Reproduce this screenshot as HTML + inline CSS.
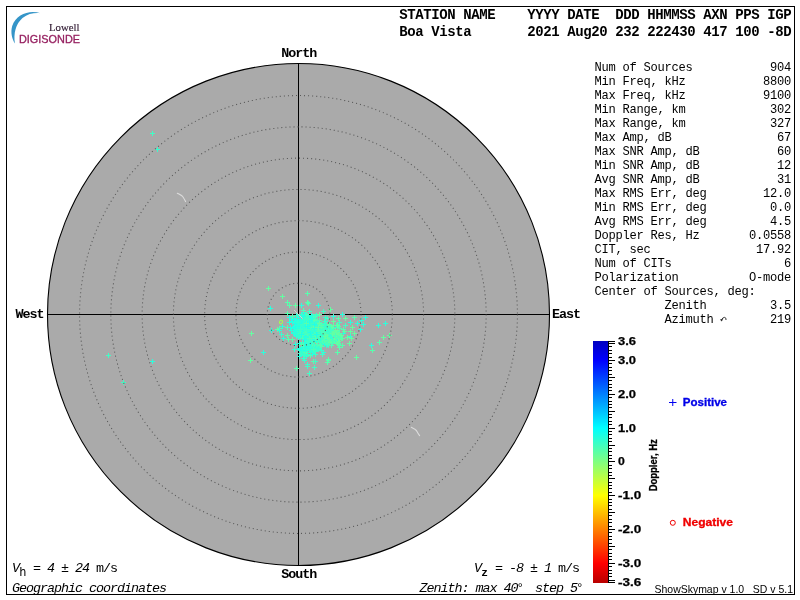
<!DOCTYPE html>
<html><head><meta charset="utf-8"><title>Skymap</title>
<style>
html,body{margin:0;padding:0;background:#fff;}
body{width:800px;height:600px;overflow:hidden;font-family:"Liberation Sans",sans-serif;}
svg{display:block;will-change:transform;}
.m{font-family:"Liberation Mono",monospace;}
.s{font-family:"Liberation Sans",sans-serif;}
.sf{font-family:"Liberation Serif",serif;}
.c{shape-rendering:crispEdges;fill:none;stroke-width:1;}
</style></head><body>
<svg width="800" height="600" viewBox="0 0 800 600">
<rect width="800" height="600" fill="#fff"/>
<rect x="6.5" y="6.5" width="788" height="588" fill="none" stroke="#000" stroke-width="1" shape-rendering="crispEdges"/>
<g id="logo">
<path d="M40.5 13.2 C30 9.5 16 14 12.2 26 C10.3 32.5 12.1 39 14.9 43.5 C13.4 33.5 15.7 24 22.5 18 C28 13.6 34.5 12.6 40.5 13.2 Z" fill="#3595c8"/>
<text class="sf" x="49" y="31" font-size="10.6" fill="#2e1830" stroke="#2e1830" stroke-width="0.15" textLength="30.5" lengthAdjust="spacingAndGlyphs">Lowell</text>
<text class="s" x="19" y="43.4" font-size="11" fill="#962060" stroke="#962060" stroke-width="0.3" textLength="61" lengthAdjust="spacingAndGlyphs">DIGISONDE</text>
</g>
<circle cx="298.5" cy="314.5" r="251" fill="#aaaaaa" stroke="#000" stroke-width="1.1"/>
<path class="c" stroke="#000" d="M298.5 63V566M47 314.5H550"/>
<path d="M177.3 193.3 Q182 195.5 183 197 T185.6 201.6" fill="none" stroke="#dcdcdc" stroke-width="1.1" stroke-linecap="round"/>
<path d="M411.3 427.3 Q416 429.5 417 431.5 T419.6 435.6" fill="none" stroke="#dcdcdc" stroke-width="1.1" stroke-linecap="round"/>
<g class="c">
<path stroke="#36ffd0" d="M313 346.5 h5M315.5 344 v5"/><path stroke="#58ffae" d="M315 342.5 h5M317.5 340 v5"/><path stroke="#2cffdc" d="M319 330.5 h5M321.5 328 v5"/><path stroke="#4cffba" d="M316 346.5 h5M318.5 344 v5"/><path stroke="#36ffd0" d="M305 332.5 h5M307.5 330 v5"/><path stroke="#64ffa2" d="M345 337.5 h5M347.5 335 v5"/><path stroke="#36ffd0" d="M306 343.5 h5M308.5 341 v5"/><path stroke="#2cffdc" d="M300 343.5 h5M302.5 341 v5"/><path stroke="#2cffdc" d="M314 336.5 h5M316.5 334 v5"/><path stroke="#36ffd0" d="M318 335.5 h5M320.5 333 v5"/><path stroke="#58ffae" d="M335 338.5 h5M337.5 336 v5"/><path stroke="#2cffdc" d="M312 329.5 h5M314.5 327 v5"/><path stroke="#40ffc6" d="M304 326.5 h5M306.5 324 v5"/><path stroke="#40ffc6" d="M304 322.5 h5M306.5 320 v5"/><path stroke="#4cffba" d="M328 340.5 h5M330.5 338 v5"/><path stroke="#4cffba" d="M325 335.5 h5M327.5 333 v5"/><path stroke="#58ffae" d="M325 330.5 h5M327.5 328 v5"/><path stroke="#4cffba" d="M329 332.5 h5M331.5 330 v5"/><path stroke="#36ffd0" d="M304 319.5 h5M306.5 317 v5"/><path stroke="#2cffdc" d="M309 324.5 h5M311.5 322 v5"/><path stroke="#40ffc6" d="M320 332.5 h5M322.5 330 v5"/><path stroke="#36ffd0" d="M310 335.5 h5M312.5 333 v5"/><path stroke="#36ffd0" d="M317 330.5 h5M319.5 328 v5"/><path stroke="#36ffd0" d="M302 331.5 h5M304.5 329 v5"/><path stroke="#36ffd0" d="M328 334.5 h5M330.5 332 v5"/><path stroke="#36ffd0" d="M302 332.5 h5M304.5 330 v5"/><path stroke="#36ffd0" d="M305 336.5 h5M307.5 334 v5"/><path stroke="#64ffa2" d="M335 332.5 h5M337.5 330 v5"/><path stroke="#40ffc6" d="M316 334.5 h5M318.5 332 v5"/><path stroke="#4cffba" d="M317 335.5 h5M319.5 333 v5"/><path stroke="#58ffae" d="M328 339.5 h5M330.5 337 v5"/><path stroke="#58ffae" d="M326 359.5 h5M328.5 357 v5"/><path stroke="#64ffa2" d="M350 327.5 h5M352.5 325 v5"/><path stroke="#4cffba" d="M334 332.5 h5M336.5 330 v5"/><path stroke="#2cffdc" d="M310 337.5 h5M312.5 335 v5"/><path stroke="#40ffc6" d="M313 338.5 h5M315.5 336 v5"/><path stroke="#4cffba" d="M311 328.5 h5M313.5 326 v5"/><path stroke="#36ffd0" d="M331 327.5 h5M333.5 325 v5"/><path stroke="#40ffc6" d="M307 337.5 h5M309.5 335 v5"/><path stroke="#36ffd0" d="M306 326.5 h5M308.5 324 v5"/><path stroke="#36ffd0" d="M331 341.5 h5M333.5 339 v5"/><path stroke="#40ffc6" d="M311 327.5 h5M313.5 325 v5"/><path stroke="#22ffe6" d="M312 320.5 h5M314.5 318 v5"/><path stroke="#2cffdc" d="M311 333.5 h5M313.5 331 v5"/><path stroke="#40ffc6" d="M314 333.5 h5M316.5 331 v5"/><path stroke="#4cffba" d="M303 351.5 h5M305.5 349 v5"/><path stroke="#36ffd0" d="M313 328.5 h5M315.5 326 v5"/><path stroke="#22ffe6" d="M298 337.5 h5M300.5 335 v5"/><path stroke="#2cffdc" d="M301 329.5 h5M303.5 327 v5"/><path stroke="#64ffa2" d="M334 334.5 h5M336.5 332 v5"/><path stroke="#4cffba" d="M315 331.5 h5M317.5 329 v5"/><path stroke="#40ffc6" d="M321 338.5 h5M323.5 336 v5"/><path stroke="#40ffc6" d="M318 329.5 h5M320.5 327 v5"/><path stroke="#40ffc6" d="M319 337.5 h5M321.5 335 v5"/><path stroke="#40ffc6" d="M320 325.5 h5M322.5 323 v5"/><path stroke="#2cffdc" d="M305 315.5 h5M307.5 313 v5"/><path stroke="#4cffba" d="M306 327.5 h5M308.5 325 v5"/><path stroke="#2cffdc" d="M290 322.5 h5M292.5 320 v5"/><path stroke="#58ffae" d="M319 329.5 h5M321.5 327 v5"/><path stroke="#2cffdc" d="M303 327.5 h5M305.5 325 v5"/><path stroke="#22ffe6" d="M304 330.5 h5M306.5 328 v5"/><path stroke="#4cffba" d="M329 340.5 h5M331.5 338 v5"/><path stroke="#2cffdc" d="M307 349.5 h5M309.5 347 v5"/><path stroke="#40ffc6" d="M312 320.5 h5M314.5 318 v5"/><path stroke="#36ffd0" d="M300 348.5 h5M302.5 346 v5"/><path stroke="#4cffba" d="M315 320.5 h5M317.5 318 v5"/><path stroke="#58ffae" d="M321 329.5 h5M323.5 327 v5"/><path stroke="#22ffe6" d="M302 331.5 h5M304.5 329 v5"/><path stroke="#2cffdc" d="M298 331.5 h5M300.5 329 v5"/><path stroke="#2cffdc" d="M314 328.5 h5M316.5 326 v5"/><path stroke="#58ffae" d="M336 326.5 h5M338.5 324 v5"/><path stroke="#40ffc6" d="M318 333.5 h5M320.5 331 v5"/><path stroke="#4cffba" d="M303 330.5 h5M305.5 328 v5"/><path stroke="#22ffe6" d="M291 330.5 h5M293.5 328 v5"/><path stroke="#40ffc6" d="M301 322.5 h5M303.5 320 v5"/><path stroke="#40ffc6" d="M326 345.5 h5M328.5 343 v5"/><path stroke="#36ffd0" d="M308 335.5 h5M310.5 333 v5"/><path stroke="#2cffdc" d="M301 329.5 h5M303.5 327 v5"/><path stroke="#4cffba" d="M328 338.5 h5M330.5 336 v5"/><path stroke="#40ffc6" d="M317 330.5 h5M319.5 328 v5"/><path stroke="#22ffe6" d="M298 326.5 h5M300.5 324 v5"/><path stroke="#36ffd0" d="M309 331.5 h5M311.5 329 v5"/><path stroke="#4cffba" d="M311 347.5 h5M313.5 345 v5"/><path stroke="#36ffd0" d="M307 332.5 h5M309.5 330 v5"/><path stroke="#40ffc6" d="M301 337.5 h5M303.5 335 v5"/><path stroke="#2cffdc" d="M297 336.5 h5M299.5 334 v5"/><path stroke="#40ffc6" d="M324 325.5 h5M326.5 323 v5"/><path stroke="#40ffc6" d="M318 334.5 h5M320.5 332 v5"/><path stroke="#40ffc6" d="M325 318.5 h5M327.5 316 v5"/><path stroke="#64ffa2" d="M326 339.5 h5M328.5 337 v5"/><path stroke="#36ffd0" d="M300 331.5 h5M302.5 329 v5"/><path stroke="#36ffd0" d="M325 334.5 h5M327.5 332 v5"/><path stroke="#64ffa2" d="M318 329.5 h5M320.5 327 v5"/><path stroke="#40ffc6" d="M304 315.5 h5M306.5 313 v5"/><path stroke="#2cffdc" d="M310 326.5 h5M312.5 324 v5"/><path stroke="#36ffd0" d="M312 331.5 h5M314.5 329 v5"/><path stroke="#40ffc6" d="M305 332.5 h5M307.5 330 v5"/><path stroke="#2cffdc" d="M303 347.5 h5M305.5 345 v5"/><path stroke="#22ffe6" d="M292 318.5 h5M294.5 316 v5"/><path stroke="#40ffc6" d="M310 322.5 h5M312.5 320 v5"/><path stroke="#2cffdc" d="M302 331.5 h5M304.5 329 v5"/><path stroke="#58ffae" d="M336 334.5 h5M338.5 332 v5"/><path stroke="#40ffc6" d="M318 330.5 h5M320.5 328 v5"/><path stroke="#2cffdc" d="M301 346.5 h5M303.5 344 v5"/><path stroke="#36ffd0" d="M309 336.5 h5M311.5 334 v5"/><path stroke="#36ffd0" d="M312 351.5 h5M314.5 349 v5"/><path stroke="#40ffc6" d="M295 324.5 h5M297.5 322 v5"/><path stroke="#36ffd0" d="M310 325.5 h5M312.5 323 v5"/><path stroke="#36ffd0" d="M305 354.5 h5M307.5 352 v5"/><path stroke="#58ffae" d="M287 305.5 h5M289.5 303 v5"/><path stroke="#2cffdc" d="M296 327.5 h5M298.5 325 v5"/><path stroke="#22ffe6" d="M317 344.5 h5M319.5 342 v5"/><path stroke="#22ffe6" d="M308 337.5 h5M310.5 335 v5"/><path stroke="#36ffd0" d="M323 330.5 h5M325.5 328 v5"/><path stroke="#40ffc6" d="M325 339.5 h5M327.5 337 v5"/><path stroke="#22ffe6" d="M301 317.5 h5M303.5 315 v5"/><path stroke="#58ffae" d="M294 368.5 h5M296.5 366 v5"/><path stroke="#2cffdc" d="M361 324.5 h5M363.5 322 v5"/><path stroke="#2cffdc" d="M307 327.5 h5M309.5 325 v5"/><path stroke="#58ffae" d="M319 346.5 h5M321.5 344 v5"/><path stroke="#36ffd0" d="M309 333.5 h5M311.5 331 v5"/><path stroke="#58ffae" d="M326 335.5 h5M328.5 333 v5"/><path stroke="#36ffd0" d="M306 331.5 h5M308.5 329 v5"/><path stroke="#2cffdc" d="M316 336.5 h5M318.5 334 v5"/><path stroke="#40ffc6" d="M302 344.5 h5M304.5 342 v5"/><path stroke="#40ffc6" d="M316 349.5 h5M318.5 347 v5"/><path stroke="#4cffba" d="M320 335.5 h5M322.5 333 v5"/><path stroke="#4cffba" d="M316 326.5 h5M318.5 324 v5"/><path stroke="#4cffba" d="M319 331.5 h5M321.5 329 v5"/><path stroke="#4cffba" d="M306 303.5 h5M308.5 301 v5"/><path stroke="#36ffd0" d="M309 329.5 h5M311.5 327 v5"/><path stroke="#36ffd0" d="M319 350.5 h5M321.5 348 v5"/><path stroke="#4cffba" d="M311 346.5 h5M313.5 344 v5"/><path stroke="#2cffdc" d="M308 317.5 h5M310.5 315 v5"/><path stroke="#22ffe6" d="M308 336.5 h5M310.5 334 v5"/><path stroke="#40ffc6" d="M296 328.5 h5M298.5 326 v5"/><path stroke="#36ffd0" d="M313 320.5 h5M315.5 318 v5"/><path stroke="#36ffd0" d="M307 323.5 h5M309.5 321 v5"/><path stroke="#2cffdc" d="M310 317.5 h5M312.5 315 v5"/><path stroke="#64ffa2" d="M330 343.5 h5M332.5 341 v5"/><path stroke="#4cffba" d="M314 327.5 h5M316.5 325 v5"/><path stroke="#2cffdc" d="M315 323.5 h5M317.5 321 v5"/><path stroke="#36ffd0" d="M300 328.5 h5M302.5 326 v5"/><path stroke="#4cffba" d="M303 329.5 h5M305.5 327 v5"/><path stroke="#58ffae" d="M311 361.5 h5M313.5 359 v5"/><path stroke="#2cffdc" d="M291 332.5 h5M293.5 330 v5"/><path stroke="#4cffba" d="M321 331.5 h5M323.5 329 v5"/><path stroke="#40ffc6" d="M306 340.5 h5M308.5 338 v5"/><path stroke="#40ffc6" d="M319 324.5 h5M321.5 322 v5"/><path stroke="#2cffdc" d="M305 344.5 h5M307.5 342 v5"/><path stroke="#36ffd0" d="M303 325.5 h5M305.5 323 v5"/><path stroke="#2cffdc" d="M302 326.5 h5M304.5 324 v5"/><path stroke="#64ffa2" d="M326 333.5 h5M328.5 331 v5"/><path stroke="#4cffba" d="M300 332.5 h5M302.5 330 v5"/><path stroke="#64ffa2" d="M352 333.5 h5M354.5 331 v5"/><path stroke="#40ffc6" d="M323 337.5 h5M325.5 335 v5"/><path stroke="#36ffd0" d="M314 328.5 h5M316.5 326 v5"/><path stroke="#22ffe6" d="M299 322.5 h5M301.5 320 v5"/><path stroke="#4cffba" d="M310 337.5 h5M312.5 335 v5"/><path stroke="#2cffdc" d="M261 352.5 h5M263.5 350 v5"/><path stroke="#36ffd0" d="M310 351.5 h5M312.5 349 v5"/><path stroke="#4cffba" d="M311 317.5 h5M313.5 315 v5"/><path stroke="#40ffc6" d="M320 354.5 h5M322.5 352 v5"/><path stroke="#2cffdc" d="M316 339.5 h5M318.5 337 v5"/><path stroke="#40ffc6" d="M330 332.5 h5M332.5 330 v5"/><path stroke="#40ffc6" d="M318 327.5 h5M320.5 325 v5"/><path stroke="#4cffba" d="M325 342.5 h5M327.5 340 v5"/><path stroke="#4cffba" d="M325 331.5 h5M327.5 329 v5"/><path stroke="#22ffe6" d="M292 326.5 h5M294.5 324 v5"/><path stroke="#2cffdc" d="M304 326.5 h5M306.5 324 v5"/><path stroke="#40ffc6" d="M302 315.5 h5M304.5 313 v5"/><path stroke="#40ffc6" d="M307 311.5 h5M309.5 309 v5"/><path stroke="#58ffae" d="M324 337.5 h5M326.5 335 v5"/><path stroke="#2cffdc" d="M300 327.5 h5M302.5 325 v5"/><path stroke="#36ffd0" d="M316 326.5 h5M318.5 324 v5"/><path stroke="#40ffc6" d="M313 329.5 h5M315.5 327 v5"/><path stroke="#40ffc6" d="M312 335.5 h5M314.5 333 v5"/><path stroke="#36ffd0" d="M309 334.5 h5M311.5 332 v5"/><path stroke="#22ffe6" d="M304 320.5 h5M306.5 318 v5"/><path stroke="#40ffc6" d="M321 332.5 h5M323.5 330 v5"/><path stroke="#4cffba" d="M310 322.5 h5M312.5 320 v5"/><path stroke="#2cffdc" d="M301 347.5 h5M303.5 345 v5"/><path stroke="#36ffd0" d="M297 325.5 h5M299.5 323 v5"/><path stroke="#40ffc6" d="M325 329.5 h5M327.5 327 v5"/><path stroke="#2cffdc" d="M300 325.5 h5M302.5 323 v5"/><path stroke="#22ffe6" d="M304 328.5 h5M306.5 326 v5"/><path stroke="#40ffc6" d="M304 325.5 h5M306.5 323 v5"/><path stroke="#2cffdc" d="M348 336.5 h5M350.5 334 v5"/><path stroke="#2cffdc" d="M312 335.5 h5M314.5 333 v5"/><path stroke="#36ffd0" d="M297 335.5 h5M299.5 333 v5"/><path stroke="#4cffba" d="M335 331.5 h5M337.5 329 v5"/><path stroke="#4cffba" d="M290 316.5 h5M292.5 314 v5"/><path stroke="#22ffe6" d="M293 333.5 h5M295.5 331 v5"/><path stroke="#58ffae" d="M324 335.5 h5M326.5 333 v5"/><path stroke="#40ffc6" d="M308 349.5 h5M310.5 347 v5"/><path stroke="#36ffd0" d="M299 326.5 h5M301.5 324 v5"/><path stroke="#2cffdc" d="M295 321.5 h5M297.5 319 v5"/><path stroke="#40ffc6" d="M318 326.5 h5M320.5 324 v5"/><path stroke="#58ffae" d="M331 334.5 h5M333.5 332 v5"/><path stroke="#40ffc6" d="M306 334.5 h5M308.5 332 v5"/><path stroke="#2cffdc" d="M299 353.5 h5M301.5 351 v5"/><path stroke="#2cffdc" d="M306 331.5 h5M308.5 329 v5"/><path stroke="#58ffae" d="M330 332.5 h5M332.5 330 v5"/><path stroke="#4cffba" d="M319 328.5 h5M321.5 326 v5"/><path stroke="#58ffae" d="M325 337.5 h5M327.5 335 v5"/><path stroke="#40ffc6" d="M306 330.5 h5M308.5 328 v5"/><path stroke="#40ffc6" d="M309 343.5 h5M311.5 341 v5"/><path stroke="#58ffae" d="M321 335.5 h5M323.5 333 v5"/><path stroke="#4cffba" d="M306 329.5 h5M308.5 327 v5"/><path stroke="#40ffc6" d="M308 322.5 h5M310.5 320 v5"/><path stroke="#40ffc6" d="M314 323.5 h5M316.5 321 v5"/><path stroke="#40ffc6" d="M316 333.5 h5M318.5 331 v5"/><path stroke="#40ffc6" d="M301 324.5 h5M303.5 322 v5"/><path stroke="#22ffe6" d="M298 329.5 h5M300.5 327 v5"/><path stroke="#4cffba" d="M314 327.5 h5M316.5 325 v5"/><path stroke="#2cffdc" d="M309 346.5 h5M311.5 344 v5"/><path stroke="#36ffd0" d="M301 345.5 h5M303.5 343 v5"/><path stroke="#22ffe6" d="M305 324.5 h5M307.5 322 v5"/><path stroke="#58ffae" d="M326 336.5 h5M328.5 334 v5"/><path stroke="#36ffd0" d="M330 338.5 h5M332.5 336 v5"/><path stroke="#36ffd0" d="M311 330.5 h5M313.5 328 v5"/><path stroke="#22ffe6" d="M296 320.5 h5M298.5 318 v5"/><path stroke="#36ffd0" d="M311 323.5 h5M313.5 321 v5"/><path stroke="#40ffc6" d="M317 345.5 h5M319.5 343 v5"/><path stroke="#4cffba" d="M315 335.5 h5M317.5 333 v5"/><path stroke="#40ffc6" d="M320 337.5 h5M322.5 335 v5"/><path stroke="#22ffe6" d="M294 322.5 h5M296.5 320 v5"/><path stroke="#4cffba" d="M319 326.5 h5M321.5 324 v5"/><path stroke="#40ffc6" d="M312 333.5 h5M314.5 331 v5"/><path stroke="#58ffae" d="M370 350.5 h5M372.5 348 v5"/><path stroke="#36ffd0" d="M316 328.5 h5M318.5 326 v5"/><path stroke="#2cffdc" d="M315 324.5 h5M317.5 322 v5"/><path stroke="#2cffdc" d="M310 316.5 h5M312.5 314 v5"/><path stroke="#4cffba" d="M336 344.5 h5M338.5 342 v5"/><path stroke="#22ffe6" d="M309 330.5 h5M311.5 328 v5"/><path stroke="#40ffc6" d="M309 330.5 h5M311.5 328 v5"/><path stroke="#40ffc6" d="M310 328.5 h5M312.5 326 v5"/><path stroke="#2cffdc" d="M310 329.5 h5M312.5 327 v5"/><path stroke="#40ffc6" d="M306 328.5 h5M308.5 326 v5"/><path stroke="#4cffba" d="M301 327.5 h5M303.5 325 v5"/><path stroke="#58ffae" d="M315 328.5 h5M317.5 326 v5"/><path stroke="#40ffc6" d="M303 332.5 h5M305.5 330 v5"/><path stroke="#40ffc6" d="M312 334.5 h5M314.5 332 v5"/><path stroke="#22ffe6" d="M303 330.5 h5M305.5 328 v5"/><path stroke="#36ffd0" d="M317 338.5 h5M319.5 336 v5"/><path stroke="#64ffa2" d="M327 325.5 h5M329.5 323 v5"/><path stroke="#4cffba" d="M329 330.5 h5M331.5 328 v5"/><path stroke="#22ffe6" d="M316 332.5 h5M318.5 330 v5"/><path stroke="#64ffa2" d="M293 305.5 h5M295.5 303 v5"/><path stroke="#4cffba" d="M317 339.5 h5M319.5 337 v5"/><path stroke="#58ffae" d="M328 333.5 h5M330.5 331 v5"/><path stroke="#40ffc6" d="M312 338.5 h5M314.5 336 v5"/><path stroke="#36ffd0" d="M301 348.5 h5M303.5 346 v5"/><path stroke="#4cffba" d="M325 334.5 h5M327.5 332 v5"/><path stroke="#2cffdc" d="M306 330.5 h5M308.5 328 v5"/><path stroke="#2cffdc" d="M292 333.5 h5M294.5 331 v5"/><path stroke="#4cffba" d="M305 316.5 h5M307.5 314 v5"/><path stroke="#22ffe6" d="M299 328.5 h5M301.5 326 v5"/><path stroke="#36ffd0" d="M298 350.5 h5M300.5 348 v5"/><path stroke="#40ffc6" d="M321 336.5 h5M323.5 334 v5"/><path stroke="#4cffba" d="M324 324.5 h5M326.5 322 v5"/><path stroke="#22ffe6" d="M308 323.5 h5M310.5 321 v5"/><path stroke="#58ffae" d="M312 330.5 h5M314.5 328 v5"/><path stroke="#40ffc6" d="M305 330.5 h5M307.5 328 v5"/><path stroke="#4cffba" d="M316 335.5 h5M318.5 333 v5"/><path stroke="#22ffe6" d="M304 340.5 h5M306.5 338 v5"/><path stroke="#36ffd0" d="M317 333.5 h5M319.5 331 v5"/><path stroke="#2cffdc" d="M287 322.5 h5M289.5 320 v5"/><path stroke="#22ffe6" d="M308 328.5 h5M310.5 326 v5"/><path stroke="#22ffe6" d="M294 323.5 h5M296.5 321 v5"/><path stroke="#36ffd0" d="M303 329.5 h5M305.5 327 v5"/><path stroke="#40ffc6" d="M317 333.5 h5M319.5 331 v5"/><path stroke="#58ffae" d="M323 324.5 h5M325.5 322 v5"/><path stroke="#40ffc6" d="M303 325.5 h5M305.5 323 v5"/><path stroke="#22ffe6" d="M310 327.5 h5M312.5 325 v5"/><path stroke="#2cffdc" d="M321 337.5 h5M323.5 335 v5"/><path stroke="#2cffdc" d="M281 338.5 h5M283.5 336 v5"/><path stroke="#64ffa2" d="M312 326.5 h5M314.5 324 v5"/><path stroke="#40ffc6" d="M305 366.5 h5M307.5 364 v5"/><path stroke="#40ffc6" d="M321 337.5 h5M323.5 335 v5"/><path stroke="#2cffdc" d="M305 344.5 h5M307.5 342 v5"/><path stroke="#36ffd0" d="M304 328.5 h5M306.5 326 v5"/><path stroke="#36ffd0" d="M311 327.5 h5M313.5 325 v5"/><path stroke="#4cffba" d="M321 333.5 h5M323.5 331 v5"/><path stroke="#4cffba" d="M311 325.5 h5M313.5 323 v5"/><path stroke="#40ffc6" d="M309 331.5 h5M311.5 329 v5"/><path stroke="#64ffa2" d="M329 330.5 h5M331.5 328 v5"/><path stroke="#36ffd0" d="M306 330.5 h5M308.5 328 v5"/><path stroke="#4cffba" d="M327 336.5 h5M329.5 334 v5"/><path stroke="#36ffd0" d="M310 337.5 h5M312.5 335 v5"/><path stroke="#36ffd0" d="M301 354.5 h5M303.5 352 v5"/><path stroke="#4cffba" d="M318 335.5 h5M320.5 333 v5"/><path stroke="#40ffc6" d="M322 332.5 h5M324.5 330 v5"/><path stroke="#22ffe6" d="M297 348.5 h5M299.5 346 v5"/><path stroke="#40ffc6" d="M305 343.5 h5M307.5 341 v5"/><path stroke="#4cffba" d="M325 334.5 h5M327.5 332 v5"/><path stroke="#4cffba" d="M311 325.5 h5M313.5 323 v5"/><path stroke="#36ffd0" d="M302 334.5 h5M304.5 332 v5"/><path stroke="#4cffba" d="M330 343.5 h5M332.5 341 v5"/><path stroke="#36ffd0" d="M314 348.5 h5M316.5 346 v5"/><path stroke="#36ffd0" d="M315 325.5 h5M317.5 323 v5"/><path stroke="#40ffc6" d="M309 333.5 h5M311.5 331 v5"/><path stroke="#40ffc6" d="M327 325.5 h5M329.5 323 v5"/><path stroke="#22ffe6" d="M302 347.5 h5M304.5 345 v5"/><path stroke="#64ffa2" d="M324 333.5 h5M326.5 331 v5"/><path stroke="#4cffba" d="M302 329.5 h5M304.5 327 v5"/><path stroke="#40ffc6" d="M322 335.5 h5M324.5 333 v5"/><path stroke="#40ffc6" d="M303 332.5 h5M305.5 330 v5"/><path stroke="#40ffc6" d="M302 349.5 h5M304.5 347 v5"/><path stroke="#4cffba" d="M329 345.5 h5M331.5 343 v5"/><path stroke="#40ffc6" d="M314 329.5 h5M316.5 327 v5"/><path stroke="#40ffc6" d="M319 331.5 h5M321.5 329 v5"/><path stroke="#2cffdc" d="M315 332.5 h5M317.5 330 v5"/><path stroke="#36ffd0" d="M306 335.5 h5M308.5 333 v5"/><path stroke="#36ffd0" d="M310 327.5 h5M312.5 325 v5"/><path stroke="#2cffdc" d="M307 332.5 h5M309.5 330 v5"/><path stroke="#58ffae" d="M328 338.5 h5M330.5 336 v5"/><path stroke="#2cffdc" d="M306 348.5 h5M308.5 346 v5"/><path stroke="#22ffe6" d="M320 334.5 h5M322.5 332 v5"/><path stroke="#2cffdc" d="M300 320.5 h5M302.5 318 v5"/><path stroke="#58ffae" d="M322 334.5 h5M324.5 332 v5"/><path stroke="#40ffc6" d="M314 329.5 h5M316.5 327 v5"/><path stroke="#40ffc6" d="M321 311.5 h5M323.5 309 v5"/><path stroke="#2cffdc" d="M304 327.5 h5M306.5 325 v5"/><path stroke="#40ffc6" d="M307 331.5 h5M309.5 329 v5"/><path stroke="#36ffd0" d="M312 337.5 h5M314.5 335 v5"/><path stroke="#40ffc6" d="M121 382.5 h5M123.5 380 v5"/><path stroke="#2cffdc" d="M302 343.5 h5M304.5 341 v5"/><path stroke="#40ffc6" d="M326 341.5 h5M328.5 339 v5"/><path stroke="#2cffdc" d="M301 322.5 h5M303.5 320 v5"/><path stroke="#58ffae" d="M306 335.5 h5M308.5 333 v5"/><path stroke="#40ffc6" d="M316 340.5 h5M318.5 338 v5"/><path stroke="#22ffe6" d="M313 332.5 h5M315.5 330 v5"/><path stroke="#40ffc6" d="M306 318.5 h5M308.5 316 v5"/><path stroke="#36ffd0" d="M298 329.5 h5M300.5 327 v5"/><path stroke="#22ffe6" d="M302 337.5 h5M304.5 335 v5"/><path stroke="#40ffc6" d="M302 323.5 h5M304.5 321 v5"/><path stroke="#4cffba" d="M321 331.5 h5M323.5 329 v5"/><path stroke="#22ffe6" d="M309 335.5 h5M311.5 333 v5"/><path stroke="#36ffd0" d="M295 334.5 h5M297.5 332 v5"/><path stroke="#36ffd0" d="M309 328.5 h5M311.5 326 v5"/><path stroke="#64ffa2" d="M387 335.5 h5M389.5 333 v5"/><path stroke="#40ffc6" d="M310 334.5 h5M312.5 332 v5"/><path stroke="#4cffba" d="M328 338.5 h5M330.5 336 v5"/><path stroke="#2cffdc" d="M294 336.5 h5M296.5 334 v5"/><path stroke="#64ffa2" d="M321 332.5 h5M323.5 330 v5"/><path stroke="#22ffe6" d="M300 326.5 h5M302.5 324 v5"/><path stroke="#36ffd0" d="M311 333.5 h5M313.5 331 v5"/><path stroke="#40ffc6" d="M322 335.5 h5M324.5 333 v5"/><path stroke="#36ffd0" d="M317 332.5 h5M319.5 330 v5"/><path stroke="#36ffd0" d="M312 320.5 h5M314.5 318 v5"/><path stroke="#2cffdc" d="M314 321.5 h5M316.5 319 v5"/><path stroke="#22ffe6" d="M304 331.5 h5M306.5 329 v5"/><path stroke="#40ffc6" d="M313 336.5 h5M315.5 334 v5"/><path stroke="#22ffe6" d="M302 333.5 h5M304.5 331 v5"/><path stroke="#22ffe6" d="M302 321.5 h5M304.5 319 v5"/><path stroke="#2cffdc" d="M359 320.5 h5M361.5 318 v5"/><path stroke="#2cffdc" d="M314 315.5 h5M316.5 313 v5"/><path stroke="#58ffae" d="M312 333.5 h5M314.5 331 v5"/><path stroke="#40ffc6" d="M311 345.5 h5M313.5 343 v5"/><path stroke="#22ffe6" d="M310 343.5 h5M312.5 341 v5"/><path stroke="#22ffe6" d="M306 328.5 h5M308.5 326 v5"/><path stroke="#40ffc6" d="M310 334.5 h5M312.5 332 v5"/><path stroke="#36ffd0" d="M311 337.5 h5M313.5 335 v5"/><path stroke="#36ffd0" d="M307 339.5 h5M309.5 337 v5"/><path stroke="#2cffdc" d="M293 321.5 h5M295.5 319 v5"/><path stroke="#36ffd0" d="M305 364.5 h5M307.5 362 v5"/><path stroke="#4cffba" d="M327 336.5 h5M329.5 334 v5"/><path stroke="#22ffe6" d="M296 332.5 h5M298.5 330 v5"/><path stroke="#36ffd0" d="M304 343.5 h5M306.5 341 v5"/><path stroke="#36ffd0" d="M311 320.5 h5M313.5 318 v5"/><path stroke="#22ffe6" d="M308 323.5 h5M310.5 321 v5"/><path stroke="#36ffd0" d="M295 322.5 h5M297.5 320 v5"/><path stroke="#36ffd0" d="M299 323.5 h5M301.5 321 v5"/><path stroke="#36ffd0" d="M304 330.5 h5M306.5 328 v5"/><path stroke="#36ffd0" d="M302 332.5 h5M304.5 330 v5"/><path stroke="#36ffd0" d="M155 149.5 h5M157.5 147 v5"/><path stroke="#40ffc6" d="M299 323.5 h5M301.5 321 v5"/><path stroke="#2cffdc" d="M305 323.5 h5M307.5 321 v5"/><path stroke="#40ffc6" d="M322 330.5 h5M324.5 328 v5"/><path stroke="#36ffd0" d="M304 330.5 h5M306.5 328 v5"/><path stroke="#22ffe6" d="M297 326.5 h5M299.5 324 v5"/><path stroke="#40ffc6" d="M305 321.5 h5M307.5 319 v5"/><path stroke="#36ffd0" d="M315 330.5 h5M317.5 328 v5"/><path stroke="#22ffe6" d="M295 330.5 h5M297.5 328 v5"/><path stroke="#40ffc6" d="M328 330.5 h5M330.5 328 v5"/><path stroke="#40ffc6" d="M310 326.5 h5M312.5 324 v5"/><path stroke="#58ffae" d="M320 334.5 h5M322.5 332 v5"/><path stroke="#2cffdc" d="M304 352.5 h5M306.5 350 v5"/><path stroke="#40ffc6" d="M331 328.5 h5M333.5 326 v5"/><path stroke="#64ffa2" d="M347 343.5 h5M349.5 341 v5"/><path stroke="#64ffa2" d="M342 331.5 h5M344.5 329 v5"/><path stroke="#22ffe6" d="M298 319.5 h5M300.5 317 v5"/><path stroke="#40ffc6" d="M319 329.5 h5M321.5 327 v5"/><path stroke="#36ffd0" d="M310 340.5 h5M312.5 338 v5"/><path stroke="#64ffa2" d="M335 330.5 h5M337.5 328 v5"/><path stroke="#2cffdc" d="M307 330.5 h5M309.5 328 v5"/><path stroke="#22ffe6" d="M307 334.5 h5M309.5 332 v5"/><path stroke="#64ffa2" d="M317 314.5 h5M319.5 312 v5"/><path stroke="#36ffd0" d="M296 321.5 h5M298.5 319 v5"/><path stroke="#2cffdc" d="M308 347.5 h5M310.5 345 v5"/><path stroke="#40ffc6" d="M318 328.5 h5M320.5 326 v5"/><path stroke="#64ffa2" d="M343 318.5 h5M345.5 316 v5"/><path stroke="#36ffd0" d="M309 334.5 h5M311.5 332 v5"/><path stroke="#2cffdc" d="M302 344.5 h5M304.5 342 v5"/><path stroke="#40ffc6" d="M299 332.5 h5M301.5 330 v5"/><path stroke="#36ffd0" d="M317 332.5 h5M319.5 330 v5"/><path stroke="#40ffc6" d="M106 355.5 h5M108.5 353 v5"/><path stroke="#36ffd0" d="M301 323.5 h5M303.5 321 v5"/><path stroke="#40ffc6" d="M302 355.5 h5M304.5 353 v5"/><path stroke="#40ffc6" d="M307 326.5 h5M309.5 324 v5"/><path stroke="#4cffba" d="M318 330.5 h5M320.5 328 v5"/><path stroke="#40ffc6" d="M317 331.5 h5M319.5 329 v5"/><path stroke="#36ffd0" d="M314 322.5 h5M316.5 320 v5"/><path stroke="#36ffd0" d="M307 323.5 h5M309.5 321 v5"/><path stroke="#36ffd0" d="M315 328.5 h5M317.5 326 v5"/><path stroke="#2cffdc" d="M150 361.5 h5M152.5 359 v5"/><path stroke="#2cffdc" d="M318 330.5 h5M320.5 328 v5"/><path stroke="#58ffae" d="M316 335.5 h5M318.5 333 v5"/><path stroke="#4cffba" d="M326 340.5 h5M328.5 338 v5"/><path stroke="#36ffd0" d="M311 317.5 h5M313.5 315 v5"/><path stroke="#22ffe6" d="M298 336.5 h5M300.5 334 v5"/><path stroke="#40ffc6" d="M313 354.5 h5M315.5 352 v5"/><path stroke="#58ffae" d="M328 341.5 h5M330.5 339 v5"/><path stroke="#2cffdc" d="M305 327.5 h5M307.5 325 v5"/><path stroke="#36ffd0" d="M307 325.5 h5M309.5 323 v5"/><path stroke="#4cffba" d="M311 338.5 h5M313.5 336 v5"/><path stroke="#36ffd0" d="M294 334.5 h5M296.5 332 v5"/><path stroke="#22ffe6" d="M300 328.5 h5M302.5 326 v5"/><path stroke="#2cffdc" d="M299 305.5 h5M301.5 303 v5"/><path stroke="#36ffd0" d="M304 337.5 h5M306.5 335 v5"/><path stroke="#36ffd0" d="M306 335.5 h5M308.5 333 v5"/><path stroke="#40ffc6" d="M319 336.5 h5M321.5 334 v5"/><path stroke="#36ffd0" d="M306 328.5 h5M308.5 326 v5"/><path stroke="#40ffc6" d="M310 330.5 h5M312.5 328 v5"/><path stroke="#36ffd0" d="M295 327.5 h5M297.5 325 v5"/><path stroke="#64ffa2" d="M331 325.5 h5M333.5 323 v5"/><path stroke="#4cffba" d="M327 333.5 h5M329.5 331 v5"/><path stroke="#2cffdc" d="M313 334.5 h5M315.5 332 v5"/><path stroke="#36ffd0" d="M309 325.5 h5M311.5 323 v5"/><path stroke="#40ffc6" d="M329 338.5 h5M331.5 336 v5"/><path stroke="#40ffc6" d="M309 327.5 h5M311.5 325 v5"/><path stroke="#64ffa2" d="M319 336.5 h5M321.5 334 v5"/><path stroke="#58ffae" d="M308 329.5 h5M310.5 327 v5"/><path stroke="#58ffae" d="M323 327.5 h5M325.5 325 v5"/><path stroke="#4cffba" d="M318 335.5 h5M320.5 333 v5"/><path stroke="#58ffae" d="M338 335.5 h5M340.5 333 v5"/><path stroke="#36ffd0" d="M308 318.5 h5M310.5 316 v5"/><path stroke="#22ffe6" d="M306 320.5 h5M308.5 318 v5"/><path stroke="#64ffa2" d="M304 352.5 h5M306.5 350 v5"/><path stroke="#22ffe6" d="M302 334.5 h5M304.5 332 v5"/><path stroke="#22ffe6" d="M303 349.5 h5M305.5 347 v5"/><path stroke="#2cffdc" d="M305 328.5 h5M307.5 326 v5"/><path stroke="#36ffd0" d="M305 323.5 h5M307.5 321 v5"/><path stroke="#58ffae" d="M318 345.5 h5M320.5 343 v5"/><path stroke="#36ffd0" d="M307 326.5 h5M309.5 324 v5"/><path stroke="#22ffe6" d="M304 325.5 h5M306.5 323 v5"/><path stroke="#22ffe6" d="M302 314.5 h5M304.5 312 v5"/><path stroke="#36ffd0" d="M321 339.5 h5M323.5 337 v5"/><path stroke="#40ffc6" d="M318 333.5 h5M320.5 331 v5"/><path stroke="#22ffe6" d="M313 328.5 h5M315.5 326 v5"/><path stroke="#22ffe6" d="M296 319.5 h5M298.5 317 v5"/><path stroke="#2cffdc" d="M314 330.5 h5M316.5 328 v5"/><path stroke="#36ffd0" d="M300 326.5 h5M302.5 324 v5"/><path stroke="#2cffdc" d="M299 347.5 h5M301.5 345 v5"/><path stroke="#36ffd0" d="M318 328.5 h5M320.5 326 v5"/><path stroke="#36ffd0" d="M330 338.5 h5M332.5 336 v5"/><path stroke="#4cffba" d="M319 329.5 h5M321.5 327 v5"/><path stroke="#22ffe6" d="M307 321.5 h5M309.5 319 v5"/><path stroke="#22ffe6" d="M309 316.5 h5M311.5 314 v5"/><path stroke="#36ffd0" d="M320 336.5 h5M322.5 334 v5"/><path stroke="#22ffe6" d="M321 337.5 h5M323.5 335 v5"/><path stroke="#4cffba" d="M313 319.5 h5M315.5 317 v5"/><path stroke="#58ffae" d="M318 329.5 h5M320.5 327 v5"/><path stroke="#2cffdc" d="M314 337.5 h5M316.5 335 v5"/><path stroke="#58ffae" d="M310 335.5 h5M312.5 333 v5"/><path stroke="#36ffd0" d="M309 324.5 h5M311.5 322 v5"/><path stroke="#64ffa2" d="M328 328.5 h5M330.5 326 v5"/><path stroke="#4cffba" d="M329 331.5 h5M331.5 329 v5"/><path stroke="#4cffba" d="M301 350.5 h5M303.5 348 v5"/><path stroke="#36ffd0" d="M304 343.5 h5M306.5 341 v5"/><path stroke="#40ffc6" d="M314 330.5 h5M316.5 328 v5"/><path stroke="#4cffba" d="M321 333.5 h5M323.5 331 v5"/><path stroke="#36ffd0" d="M311 316.5 h5M313.5 314 v5"/><path stroke="#2cffdc" d="M300 328.5 h5M302.5 326 v5"/><path stroke="#4cffba" d="M317 339.5 h5M319.5 337 v5"/><path stroke="#2cffdc" d="M305 329.5 h5M307.5 327 v5"/><path stroke="#58ffae" d="M329 329.5 h5M331.5 327 v5"/><path stroke="#2cffdc" d="M311 341.5 h5M313.5 339 v5"/><path stroke="#40ffc6" d="M320 332.5 h5M322.5 330 v5"/><path stroke="#22ffe6" d="M315 333.5 h5M317.5 331 v5"/><path stroke="#2cffdc" d="M303 321.5 h5M305.5 319 v5"/><path stroke="#4cffba" d="M322 328.5 h5M324.5 326 v5"/><path stroke="#58ffae" d="M327 339.5 h5M329.5 337 v5"/><path stroke="#36ffd0" d="M318 329.5 h5M320.5 327 v5"/><path stroke="#4cffba" d="M316 334.5 h5M318.5 332 v5"/><path stroke="#36ffd0" d="M306 332.5 h5M308.5 330 v5"/><path stroke="#2cffdc" d="M306 344.5 h5M308.5 342 v5"/><path stroke="#40ffc6" d="M306 325.5 h5M308.5 323 v5"/><path stroke="#40ffc6" d="M314 344.5 h5M316.5 342 v5"/><path stroke="#58ffae" d="M320 335.5 h5M322.5 333 v5"/><path stroke="#4cffba" d="M323 333.5 h5M325.5 331 v5"/><path stroke="#36ffd0" d="M306 348.5 h5M308.5 346 v5"/><path stroke="#64ffa2" d="M266 288.5 h5M268.5 286 v5"/><path stroke="#36ffd0" d="M313 334.5 h5M315.5 332 v5"/><path stroke="#2cffdc" d="M309 330.5 h5M311.5 328 v5"/><path stroke="#2cffdc" d="M297 329.5 h5M299.5 327 v5"/><path stroke="#22ffe6" d="M306 335.5 h5M308.5 333 v5"/><path stroke="#36ffd0" d="M316 336.5 h5M318.5 334 v5"/><path stroke="#2cffdc" d="M308 329.5 h5M310.5 327 v5"/><path stroke="#40ffc6" d="M305 322.5 h5M307.5 320 v5"/><path stroke="#36ffd0" d="M321 334.5 h5M323.5 332 v5"/><path stroke="#40ffc6" d="M326 329.5 h5M328.5 327 v5"/><path stroke="#36ffd0" d="M305 315.5 h5M307.5 313 v5"/><path stroke="#58ffae" d="M335 333.5 h5M337.5 331 v5"/><path stroke="#64ffa2" d="M321 338.5 h5M323.5 336 v5"/><path stroke="#22ffe6" d="M306 334.5 h5M308.5 332 v5"/><path stroke="#36ffd0" d="M303 334.5 h5M305.5 332 v5"/><path stroke="#22ffe6" d="M300 329.5 h5M302.5 327 v5"/><path stroke="#58ffae" d="M311 316.5 h5M313.5 314 v5"/><path stroke="#40ffc6" d="M314 348.5 h5M316.5 346 v5"/><path stroke="#2cffdc" d="M305 325.5 h5M307.5 323 v5"/><path stroke="#22ffe6" d="M310 321.5 h5M312.5 319 v5"/><path stroke="#36ffd0" d="M306 329.5 h5M308.5 327 v5"/><path stroke="#4cffba" d="M307 349.5 h5M309.5 347 v5"/><path stroke="#36ffd0" d="M305 323.5 h5M307.5 321 v5"/><path stroke="#36ffd0" d="M315 330.5 h5M317.5 328 v5"/><path stroke="#40ffc6" d="M304 349.5 h5M306.5 347 v5"/><path stroke="#2cffdc" d="M280 326.5 h5M282.5 324 v5"/><path stroke="#2cffdc" d="M309 321.5 h5M311.5 319 v5"/><path stroke="#40ffc6" d="M312 349.5 h5M314.5 347 v5"/><path stroke="#40ffc6" d="M311 332.5 h5M313.5 330 v5"/><path stroke="#40ffc6" d="M320 329.5 h5M322.5 327 v5"/><path stroke="#36ffd0" d="M307 330.5 h5M309.5 328 v5"/><path stroke="#2cffdc" d="M310 318.5 h5M312.5 316 v5"/><path stroke="#2cffdc" d="M297 343.5 h5M299.5 341 v5"/><path stroke="#58ffae" d="M336 343.5 h5M338.5 341 v5"/><path stroke="#2cffdc" d="M355 323.5 h5M357.5 321 v5"/><path stroke="#2cffdc" d="M296 321.5 h5M298.5 319 v5"/><path stroke="#36ffd0" d="M319 341.5 h5M321.5 339 v5"/><path stroke="#40ffc6" d="M314 327.5 h5M316.5 325 v5"/><path stroke="#4cffba" d="M326 331.5 h5M328.5 329 v5"/><path stroke="#2cffdc" d="M341 333.5 h5M343.5 331 v5"/><path stroke="#58ffae" d="M319 336.5 h5M321.5 334 v5"/><path stroke="#36ffd0" d="M318 334.5 h5M320.5 332 v5"/><path stroke="#4cffba" d="M303 318.5 h5M305.5 316 v5"/><path stroke="#64ffa2" d="M280 296.5 h5M282.5 294 v5"/><path stroke="#22ffe6" d="M299 324.5 h5M301.5 322 v5"/><path stroke="#36ffd0" d="M305 325.5 h5M307.5 323 v5"/><path stroke="#40ffc6" d="M321 334.5 h5M323.5 332 v5"/><path stroke="#40ffc6" d="M316 333.5 h5M318.5 331 v5"/><path stroke="#58ffae" d="M322 328.5 h5M324.5 326 v5"/><path stroke="#36ffd0" d="M304 330.5 h5M306.5 328 v5"/><path stroke="#64ffa2" d="M314 342.5 h5M316.5 340 v5"/><path stroke="#2cffdc" d="M311 351.5 h5M313.5 349 v5"/><path stroke="#58ffae" d="M309 343.5 h5M311.5 341 v5"/><path stroke="#4cffba" d="M315 324.5 h5M317.5 322 v5"/><path stroke="#36ffd0" d="M303 334.5 h5M305.5 332 v5"/><path stroke="#40ffc6" d="M314 330.5 h5M316.5 328 v5"/><path stroke="#58ffae" d="M310 345.5 h5M312.5 343 v5"/><path stroke="#22ffe6" d="M305 343.5 h5M307.5 341 v5"/><path stroke="#36ffd0" d="M311 336.5 h5M313.5 334 v5"/><path stroke="#58ffae" d="M320 333.5 h5M322.5 331 v5"/><path stroke="#2cffdc" d="M308 337.5 h5M310.5 335 v5"/><path stroke="#40ffc6" d="M319 330.5 h5M321.5 328 v5"/><path stroke="#22ffe6" d="M298 326.5 h5M300.5 324 v5"/><path stroke="#4cffba" d="M320 330.5 h5M322.5 328 v5"/><path stroke="#4cffba" d="M317 330.5 h5M319.5 328 v5"/><path stroke="#4cffba" d="M317 327.5 h5M319.5 325 v5"/><path stroke="#58ffae" d="M330 331.5 h5M332.5 329 v5"/><path stroke="#22ffe6" d="M305 324.5 h5M307.5 322 v5"/><path stroke="#2cffdc" d="M302 320.5 h5M304.5 318 v5"/><path stroke="#40ffc6" d="M301 329.5 h5M303.5 327 v5"/><path stroke="#4cffba" d="M317 320.5 h5M319.5 318 v5"/><path stroke="#40ffc6" d="M308 334.5 h5M310.5 332 v5"/><path stroke="#58ffae" d="M321 326.5 h5M323.5 324 v5"/><path stroke="#36ffd0" d="M317 324.5 h5M319.5 322 v5"/><path stroke="#36ffd0" d="M323 317.5 h5M325.5 315 v5"/><path stroke="#40ffc6" d="M299 349.5 h5M301.5 347 v5"/><path stroke="#40ffc6" d="M315 330.5 h5M317.5 328 v5"/><path stroke="#40ffc6" d="M306 330.5 h5M308.5 328 v5"/><path stroke="#36ffd0" d="M300 347.5 h5M302.5 345 v5"/><path stroke="#40ffc6" d="M312 367.5 h5M314.5 365 v5"/><path stroke="#4cffba" d="M323 336.5 h5M325.5 334 v5"/><path stroke="#22ffe6" d="M292 328.5 h5M294.5 326 v5"/><path stroke="#36ffd0" d="M302 346.5 h5M304.5 344 v5"/><path stroke="#2cffdc" d="M304 319.5 h5M306.5 317 v5"/><path stroke="#40ffc6" d="M334 325.5 h5M336.5 323 v5"/><path stroke="#40ffc6" d="M302 327.5 h5M304.5 325 v5"/><path stroke="#36ffd0" d="M302 327.5 h5M304.5 325 v5"/><path stroke="#2cffdc" d="M309 327.5 h5M311.5 325 v5"/><path stroke="#2cffdc" d="M293 323.5 h5M295.5 321 v5"/><path stroke="#4cffba" d="M310 339.5 h5M312.5 337 v5"/><path stroke="#2cffdc" d="M314 332.5 h5M316.5 330 v5"/><path stroke="#2cffdc" d="M299 349.5 h5M301.5 347 v5"/><path stroke="#40ffc6" d="M313 361.5 h5M315.5 359 v5"/><path stroke="#64ffa2" d="M348 331.5 h5M350.5 329 v5"/><path stroke="#40ffc6" d="M303 314.5 h5M305.5 312 v5"/><path stroke="#22ffe6" d="M296 317.5 h5M298.5 315 v5"/><path stroke="#2cffdc" d="M321 352.5 h5M323.5 350 v5"/><path stroke="#4cffba" d="M301 310.5 h5M303.5 308 v5"/><path stroke="#36ffd0" d="M310 319.5 h5M312.5 317 v5"/><path stroke="#2cffdc" d="M314 330.5 h5M316.5 328 v5"/><path stroke="#4cffba" d="M300 335.5 h5M302.5 333 v5"/><path stroke="#40ffc6" d="M150 133.5 h5M152.5 131 v5"/><path stroke="#4cffba" d="M311 337.5 h5M313.5 335 v5"/><path stroke="#40ffc6" d="M304 315.5 h5M306.5 313 v5"/><path stroke="#22ffe6" d="M314 340.5 h5M316.5 338 v5"/><path stroke="#58ffae" d="M329 326.5 h5M331.5 324 v5"/><path stroke="#22ffe6" d="M298 321.5 h5M300.5 319 v5"/><path stroke="#40ffc6" d="M309 319.5 h5M311.5 317 v5"/><path stroke="#58ffae" d="M315 336.5 h5M317.5 334 v5"/><path stroke="#4cffba" d="M321 330.5 h5M323.5 328 v5"/><path stroke="#36ffd0" d="M309 330.5 h5M311.5 328 v5"/><path stroke="#2cffdc" d="M340 314.5 h5M342.5 312 v5"/><path stroke="#36ffd0" d="M306 332.5 h5M308.5 330 v5"/><path stroke="#4cffba" d="M337 328.5 h5M339.5 326 v5"/><path stroke="#2cffdc" d="M363 317.5 h5M365.5 315 v5"/><path stroke="#40ffc6" d="M313 322.5 h5M315.5 320 v5"/><path stroke="#40ffc6" d="M322 334.5 h5M324.5 332 v5"/><path stroke="#4cffba" d="M317 335.5 h5M319.5 333 v5"/><path stroke="#40ffc6" d="M311 349.5 h5M313.5 347 v5"/><path stroke="#36ffd0" d="M311 336.5 h5M313.5 334 v5"/><path stroke="#2cffdc" d="M358 329.5 h5M360.5 327 v5"/><path stroke="#36ffd0" d="M304 318.5 h5M306.5 316 v5"/><path stroke="#2cffdc" d="M326 333.5 h5M328.5 331 v5"/><path stroke="#40ffc6" d="M309 335.5 h5M311.5 333 v5"/><path stroke="#64ffa2" d="M328 329.5 h5M330.5 327 v5"/><path stroke="#36ffd0" d="M310 329.5 h5M312.5 327 v5"/><path stroke="#22ffe6" d="M300 320.5 h5M302.5 318 v5"/><path stroke="#58ffae" d="M313 330.5 h5M315.5 328 v5"/><path stroke="#64ffa2" d="M275 329.5 h5M277.5 327 v5"/><path stroke="#2cffdc" d="M301 331.5 h5M303.5 329 v5"/><path stroke="#36ffd0" d="M304 338.5 h5M306.5 336 v5"/><path stroke="#2cffdc" d="M300 347.5 h5M302.5 345 v5"/><path stroke="#58ffae" d="M316 330.5 h5M318.5 328 v5"/><path stroke="#4cffba" d="M309 320.5 h5M311.5 318 v5"/><path stroke="#64ffa2" d="M330 334.5 h5M332.5 332 v5"/><path stroke="#4cffba" d="M332 341.5 h5M334.5 339 v5"/><path stroke="#58ffae" d="M323 334.5 h5M325.5 332 v5"/><path stroke="#40ffc6" d="M317 328.5 h5M319.5 326 v5"/><path stroke="#4cffba" d="M307 330.5 h5M309.5 328 v5"/><path stroke="#4cffba" d="M334 336.5 h5M336.5 334 v5"/><path stroke="#40ffc6" d="M314 337.5 h5M316.5 335 v5"/><path stroke="#4cffba" d="M325 337.5 h5M327.5 335 v5"/><path stroke="#58ffae" d="M322 333.5 h5M324.5 331 v5"/><path stroke="#4cffba" d="M309 327.5 h5M311.5 325 v5"/><path stroke="#58ffae" d="M326 360.5 h5M328.5 358 v5"/><path stroke="#40ffc6" d="M307 331.5 h5M309.5 329 v5"/><path stroke="#4cffba" d="M325 332.5 h5M327.5 330 v5"/><path stroke="#22ffe6" d="M287 317.5 h5M289.5 315 v5"/><path stroke="#36ffd0" d="M329 334.5 h5M331.5 332 v5"/><path stroke="#64ffa2" d="M339 338.5 h5M341.5 336 v5"/><path stroke="#64ffa2" d="M337 339.5 h5M339.5 337 v5"/><path stroke="#2cffdc" d="M308 326.5 h5M310.5 324 v5"/><path stroke="#58ffae" d="M277 328.5 h5M279.5 326 v5"/><path stroke="#22ffe6" d="M303 325.5 h5M305.5 323 v5"/><path stroke="#2cffdc" d="M305 330.5 h5M307.5 328 v5"/><path stroke="#4cffba" d="M310 328.5 h5M312.5 326 v5"/><path stroke="#2cffdc" d="M297 325.5 h5M299.5 323 v5"/><path stroke="#40ffc6" d="M305 328.5 h5M307.5 326 v5"/><path stroke="#40ffc6" d="M305 321.5 h5M307.5 319 v5"/><path stroke="#40ffc6" d="M305 326.5 h5M307.5 324 v5"/><path stroke="#36ffd0" d="M321 337.5 h5M323.5 335 v5"/><path stroke="#2cffdc" d="M297 325.5 h5M299.5 323 v5"/><path stroke="#64ffa2" d="M333 335.5 h5M335.5 333 v5"/><path stroke="#22ffe6" d="M296 330.5 h5M298.5 328 v5"/><path stroke="#2cffdc" d="M369 345.5 h5M371.5 343 v5"/><path stroke="#36ffd0" d="M303 330.5 h5M305.5 328 v5"/><path stroke="#64ffa2" d="M334 332.5 h5M336.5 330 v5"/><path stroke="#2cffdc" d="M299 322.5 h5M301.5 320 v5"/><path stroke="#40ffc6" d="M304 328.5 h5M306.5 326 v5"/><path stroke="#4cffba" d="M310 334.5 h5M312.5 332 v5"/><path stroke="#2cffdc" d="M300 315.5 h5M302.5 313 v5"/><path stroke="#2cffdc" d="M299 331.5 h5M301.5 329 v5"/><path stroke="#2cffdc" d="M303 323.5 h5M305.5 321 v5"/><path stroke="#64ffa2" d="M322 333.5 h5M324.5 331 v5"/><path stroke="#2cffdc" d="M297 332.5 h5M299.5 330 v5"/><path stroke="#4cffba" d="M316 340.5 h5M318.5 338 v5"/><path stroke="#4cffba" d="M337 337.5 h5M339.5 335 v5"/><path stroke="#58ffae" d="M331 333.5 h5M333.5 331 v5"/><path stroke="#64ffa2" d="M327 329.5 h5M329.5 327 v5"/><path stroke="#40ffc6" d="M324 336.5 h5M326.5 334 v5"/><path stroke="#36ffd0" d="M305 330.5 h5M307.5 328 v5"/><path stroke="#36ffd0" d="M295 315.5 h5M297.5 313 v5"/><path stroke="#36ffd0" d="M303 324.5 h5M305.5 322 v5"/><path stroke="#40ffc6" d="M320 342.5 h5M322.5 340 v5"/><path stroke="#58ffae" d="M319 328.5 h5M321.5 326 v5"/><path stroke="#2cffdc" d="M317 334.5 h5M319.5 332 v5"/><path stroke="#40ffc6" d="M314 326.5 h5M316.5 324 v5"/><path stroke="#4cffba" d="M311 328.5 h5M313.5 326 v5"/><path stroke="#2cffdc" d="M305 333.5 h5M307.5 331 v5"/><path stroke="#58ffae" d="M335 342.5 h5M337.5 340 v5"/><path stroke="#36ffd0" d="M300 323.5 h5M302.5 321 v5"/><path stroke="#40ffc6" d="M323 334.5 h5M325.5 332 v5"/><path stroke="#4cffba" d="M306 339.5 h5M308.5 337 v5"/><path stroke="#22ffe6" d="M308 347.5 h5M310.5 345 v5"/><path stroke="#40ffc6" d="M322 334.5 h5M324.5 332 v5"/><path stroke="#58ffae" d="M321 338.5 h5M323.5 336 v5"/><path stroke="#64ffa2" d="M354 357.5 h5M356.5 355 v5"/><path stroke="#64ffa2" d="M327 332.5 h5M329.5 330 v5"/><path stroke="#40ffc6" d="M305 341.5 h5M307.5 339 v5"/><path stroke="#58ffae" d="M317 329.5 h5M319.5 327 v5"/><path stroke="#40ffc6" d="M317 341.5 h5M319.5 339 v5"/><path stroke="#36ffd0" d="M317 328.5 h5M319.5 326 v5"/><path stroke="#2cffdc" d="M308 348.5 h5M310.5 346 v5"/><path stroke="#4cffba" d="M318 334.5 h5M320.5 332 v5"/><path stroke="#58ffae" d="M299 321.5 h5M301.5 319 v5"/><path stroke="#2cffdc" d="M305 329.5 h5M307.5 327 v5"/><path stroke="#2cffdc" d="M303 330.5 h5M305.5 328 v5"/><path stroke="#58ffae" d="M317 332.5 h5M319.5 330 v5"/><path stroke="#58ffae" d="M315 326.5 h5M317.5 324 v5"/><path stroke="#4cffba" d="M311 321.5 h5M313.5 319 v5"/><path stroke="#36ffd0" d="M292 349.5 h5M294.5 347 v5"/><path stroke="#4cffba" d="M306 324.5 h5M308.5 322 v5"/><path stroke="#58ffae" d="M316 336.5 h5M318.5 334 v5"/><path stroke="#58ffae" d="M308 355.5 h5M310.5 353 v5"/><path stroke="#22ffe6" d="M303 327.5 h5M305.5 325 v5"/><path stroke="#22ffe6" d="M298 326.5 h5M300.5 324 v5"/><path stroke="#2cffdc" d="M383 323.5 h5M385.5 321 v5"/><path stroke="#58ffae" d="M333 332.5 h5M335.5 330 v5"/><path stroke="#4cffba" d="M312 334.5 h5M314.5 332 v5"/><path stroke="#22ffe6" d="M299 336.5 h5M301.5 334 v5"/><path stroke="#36ffd0" d="M311 326.5 h5M313.5 324 v5"/><path stroke="#4cffba" d="M327 328.5 h5M329.5 326 v5"/><path stroke="#4cffba" d="M307 322.5 h5M309.5 320 v5"/><path stroke="#4cffba" d="M316 334.5 h5M318.5 332 v5"/><path stroke="#40ffc6" d="M322 342.5 h5M324.5 340 v5"/><path stroke="#36ffd0" d="M307 350.5 h5M309.5 348 v5"/><path stroke="#36ffd0" d="M310 335.5 h5M312.5 333 v5"/><path stroke="#36ffd0" d="M294 315.5 h5M296.5 313 v5"/><path stroke="#40ffc6" d="M319 336.5 h5M321.5 334 v5"/><path stroke="#36ffd0" d="M328 335.5 h5M330.5 333 v5"/><path stroke="#2cffdc" d="M326 329.5 h5M328.5 327 v5"/><path stroke="#64ffa2" d="M329 332.5 h5M331.5 330 v5"/><path stroke="#36ffd0" d="M304 323.5 h5M306.5 321 v5"/><path stroke="#58ffae" d="M329 329.5 h5M331.5 327 v5"/><path stroke="#36ffd0" d="M298 333.5 h5M300.5 331 v5"/><path stroke="#2cffdc" d="M318 338.5 h5M320.5 336 v5"/><path stroke="#64ffa2" d="M334 333.5 h5M336.5 331 v5"/><path stroke="#58ffae" d="M290 339.5 h5M292.5 337 v5"/><path stroke="#58ffae" d="M325 362.5 h5M327.5 360 v5"/><path stroke="#4cffba" d="M322 338.5 h5M324.5 336 v5"/><path stroke="#58ffae" d="M336 318.5 h5M338.5 316 v5"/><path stroke="#40ffc6" d="M318 324.5 h5M320.5 322 v5"/><path stroke="#40ffc6" d="M321 333.5 h5M323.5 331 v5"/><path stroke="#4cffba" d="M318 334.5 h5M320.5 332 v5"/><path stroke="#40ffc6" d="M306 317.5 h5M308.5 315 v5"/><path stroke="#4cffba" d="M327 342.5 h5M329.5 340 v5"/><path stroke="#36ffd0" d="M312 329.5 h5M314.5 327 v5"/><path stroke="#36ffd0" d="M321 334.5 h5M323.5 332 v5"/><path stroke="#2cffdc" d="M304 329.5 h5M306.5 327 v5"/><path stroke="#58ffae" d="M316 333.5 h5M318.5 331 v5"/><path stroke="#2cffdc" d="M277 330.5 h5M279.5 328 v5"/><path stroke="#36ffd0" d="M301 322.5 h5M303.5 320 v5"/><path stroke="#58ffae" d="M333 339.5 h5M335.5 337 v5"/><path stroke="#40ffc6" d="M314 325.5 h5M316.5 323 v5"/><path stroke="#58ffae" d="M305 302.5 h5M307.5 300 v5"/><path stroke="#40ffc6" d="M328 332.5 h5M330.5 330 v5"/><path stroke="#58ffae" d="M320 333.5 h5M322.5 331 v5"/><path stroke="#36ffd0" d="M308 330.5 h5M310.5 328 v5"/><path stroke="#2cffdc" d="M313 338.5 h5M315.5 336 v5"/><path stroke="#36ffd0" d="M301 358.5 h5M303.5 356 v5"/><path stroke="#22ffe6" d="M301 327.5 h5M303.5 325 v5"/><path stroke="#2cffdc" d="M306 325.5 h5M308.5 323 v5"/><path stroke="#36ffd0" d="M304 322.5 h5M306.5 320 v5"/><path stroke="#58ffae" d="M324 329.5 h5M326.5 327 v5"/><path stroke="#36ffd0" d="M306 338.5 h5M308.5 336 v5"/><path stroke="#2cffdc" d="M298 324.5 h5M300.5 322 v5"/><path stroke="#2cffdc" d="M293 331.5 h5M295.5 329 v5"/><path stroke="#2cffdc" d="M306 334.5 h5M308.5 332 v5"/><path stroke="#36ffd0" d="M295 332.5 h5M297.5 330 v5"/><path stroke="#58ffae" d="M323 335.5 h5M325.5 333 v5"/><path stroke="#58ffae" d="M325 328.5 h5M327.5 326 v5"/><path stroke="#36ffd0" d="M305 331.5 h5M307.5 329 v5"/><path stroke="#36ffd0" d="M313 331.5 h5M315.5 329 v5"/><path stroke="#36ffd0" d="M323 339.5 h5M325.5 337 v5"/><path stroke="#64ffa2" d="M317 324.5 h5M319.5 322 v5"/><path stroke="#36ffd0" d="M306 348.5 h5M308.5 346 v5"/><path stroke="#40ffc6" d="M304 328.5 h5M306.5 326 v5"/><path stroke="#40ffc6" d="M301 317.5 h5M303.5 315 v5"/><path stroke="#58ffae" d="M285 327.5 h5M287.5 325 v5"/><path stroke="#64ffa2" d="M329 327.5 h5M331.5 325 v5"/><path stroke="#40ffc6" d="M304 327.5 h5M306.5 325 v5"/><path stroke="#40ffc6" d="M307 324.5 h5M309.5 322 v5"/><path stroke="#64ffa2" d="M249 333.5 h5M251.5 331 v5"/><path stroke="#40ffc6" d="M306 317.5 h5M308.5 315 v5"/><path stroke="#58ffae" d="M317 328.5 h5M319.5 326 v5"/><path stroke="#36ffd0" d="M323 321.5 h5M325.5 319 v5"/><path stroke="#58ffae" d="M326 328.5 h5M328.5 326 v5"/><path stroke="#40ffc6" d="M321 336.5 h5M323.5 334 v5"/><path stroke="#36ffd0" d="M328 329.5 h5M330.5 327 v5"/><path stroke="#2cffdc" d="M302 321.5 h5M304.5 319 v5"/><path stroke="#40ffc6" d="M319 329.5 h5M321.5 327 v5"/><path stroke="#4cffba" d="M301 328.5 h5M303.5 326 v5"/><path stroke="#58ffae" d="M377 342.5 h5M379.5 340 v5"/><path stroke="#36ffd0" d="M313 326.5 h5M315.5 324 v5"/><path stroke="#40ffc6" d="M298 353.5 h5M300.5 351 v5"/><path stroke="#4cffba" d="M323 331.5 h5M325.5 329 v5"/><path stroke="#4cffba" d="M308 352.5 h5M310.5 350 v5"/><path stroke="#58ffae" d="M306 334.5 h5M308.5 332 v5"/><path stroke="#4cffba" d="M304 314.5 h5M306.5 312 v5"/><path stroke="#58ffae" d="M286 339.5 h5M288.5 337 v5"/><path stroke="#40ffc6" d="M324 344.5 h5M326.5 342 v5"/><path stroke="#2cffdc" d="M348 322.5 h5M350.5 320 v5"/><path stroke="#22ffe6" d="M315 330.5 h5M317.5 328 v5"/><path stroke="#36ffd0" d="M321 335.5 h5M323.5 333 v5"/><path stroke="#4cffba" d="M315 326.5 h5M317.5 324 v5"/><path stroke="#58ffae" d="M306 330.5 h5M308.5 328 v5"/><path stroke="#64ffa2" d="M349 338.5 h5M351.5 336 v5"/><path stroke="#58ffae" d="M329 332.5 h5M331.5 330 v5"/><path stroke="#36ffd0" d="M315 322.5 h5M317.5 320 v5"/><path stroke="#36ffd0" d="M301 329.5 h5M303.5 327 v5"/><path stroke="#22ffe6" d="M300 320.5 h5M302.5 318 v5"/><path stroke="#58ffae" d="M309 325.5 h5M311.5 323 v5"/><path stroke="#64ffa2" d="M339 335.5 h5M341.5 333 v5"/><path stroke="#22ffe6" d="M333 330.5 h5M335.5 328 v5"/><path stroke="#22ffe6" d="M318 335.5 h5M320.5 333 v5"/><path stroke="#4cffba" d="M307 328.5 h5M309.5 326 v5"/><path stroke="#64ffa2" d="M333 330.5 h5M335.5 328 v5"/><path stroke="#2cffdc" d="M308 347.5 h5M310.5 345 v5"/><path stroke="#40ffc6" d="M321 325.5 h5M323.5 323 v5"/><path stroke="#40ffc6" d="M312 331.5 h5M314.5 329 v5"/><path stroke="#4cffba" d="M316 329.5 h5M318.5 327 v5"/><path stroke="#36ffd0" d="M304 356.5 h5M306.5 354 v5"/><path stroke="#40ffc6" d="M307 344.5 h5M309.5 342 v5"/><path stroke="#40ffc6" d="M310 334.5 h5M312.5 332 v5"/><path stroke="#4cffba" d="M328 336.5 h5M330.5 334 v5"/><path stroke="#4cffba" d="M316 335.5 h5M318.5 333 v5"/><path stroke="#4cffba" d="M316 331.5 h5M318.5 329 v5"/><path stroke="#2cffdc" d="M316 305.5 h5M318.5 303 v5"/><path stroke="#22ffe6" d="M302 322.5 h5M304.5 320 v5"/><path stroke="#58ffae" d="M352 317.5 h5M354.5 315 v5"/><path stroke="#36ffd0" d="M308 337.5 h5M310.5 335 v5"/><path stroke="#36ffd0" d="M320 329.5 h5M322.5 327 v5"/><path stroke="#2cffdc" d="M311 333.5 h5M313.5 331 v5"/><path stroke="#22ffe6" d="M289 319.5 h5M291.5 317 v5"/><path stroke="#40ffc6" d="M313 336.5 h5M315.5 334 v5"/><path stroke="#58ffae" d="M326 330.5 h5M328.5 328 v5"/><path stroke="#36ffd0" d="M307 320.5 h5M309.5 318 v5"/><path stroke="#36ffd0" d="M304 325.5 h5M306.5 323 v5"/><path stroke="#58ffae" d="M321 330.5 h5M323.5 328 v5"/><path stroke="#40ffc6" d="M309 323.5 h5M311.5 321 v5"/><path stroke="#2cffdc" d="M309 321.5 h5M311.5 319 v5"/><path stroke="#40ffc6" d="M322 341.5 h5M324.5 339 v5"/><path stroke="#36ffd0" d="M313 332.5 h5M315.5 330 v5"/><path stroke="#36ffd0" d="M308 333.5 h5M310.5 331 v5"/><path stroke="#36ffd0" d="M304 323.5 h5M306.5 321 v5"/><path stroke="#4cffba" d="M316 334.5 h5M318.5 332 v5"/><path stroke="#58ffae" d="M317 336.5 h5M319.5 334 v5"/><path stroke="#36ffd0" d="M313 337.5 h5M315.5 335 v5"/><path stroke="#22ffe6" d="M298 323.5 h5M300.5 321 v5"/><path stroke="#58ffae" d="M315 322.5 h5M317.5 320 v5"/><path stroke="#36ffd0" d="M309 347.5 h5M311.5 345 v5"/><path stroke="#4cffba" d="M316 331.5 h5M318.5 329 v5"/><path stroke="#40ffc6" d="M305 350.5 h5M307.5 348 v5"/><path stroke="#36ffd0" d="M299 336.5 h5M301.5 334 v5"/><path stroke="#64ffa2" d="M327 342.5 h5M329.5 340 v5"/><path stroke="#58ffae" d="M301 344.5 h5M303.5 342 v5"/><path stroke="#40ffc6" d="M306 327.5 h5M308.5 325 v5"/><path stroke="#36ffd0" d="M308 343.5 h5M310.5 341 v5"/><path stroke="#2cffdc" d="M310 354.5 h5M312.5 352 v5"/><path stroke="#36ffd0" d="M307 340.5 h5M309.5 338 v5"/><path stroke="#22ffe6" d="M301 326.5 h5M303.5 324 v5"/><path stroke="#58ffae" d="M320 339.5 h5M322.5 337 v5"/><path stroke="#36ffd0" d="M315 348.5 h5M317.5 346 v5"/><path stroke="#40ffc6" d="M324 330.5 h5M326.5 328 v5"/><path stroke="#22ffe6" d="M296 322.5 h5M298.5 320 v5"/><path stroke="#58ffae" d="M321 331.5 h5M323.5 329 v5"/><path stroke="#40ffc6" d="M321 328.5 h5M323.5 326 v5"/><path stroke="#40ffc6" d="M317 333.5 h5M319.5 331 v5"/><path stroke="#36ffd0" d="M308 352.5 h5M310.5 350 v5"/><path stroke="#22ffe6" d="M298 322.5 h5M300.5 320 v5"/><path stroke="#2cffdc" d="M268 308.5 h5M270.5 306 v5"/><path stroke="#58ffae" d="M327 331.5 h5M329.5 329 v5"/><path stroke="#22ffe6" d="M299 321.5 h5M301.5 319 v5"/><path stroke="#4cffba" d="M310 328.5 h5M312.5 326 v5"/><path stroke="#2cffdc" d="M289 330.5 h5M291.5 328 v5"/><path stroke="#58ffae" d="M320 340.5 h5M322.5 338 v5"/><path stroke="#36ffd0" d="M295 329.5 h5M297.5 327 v5"/><path stroke="#2cffdc" d="M335 341.5 h5M337.5 339 v5"/><path stroke="#36ffd0" d="M304 331.5 h5M306.5 329 v5"/><path stroke="#58ffae" d="M335 352.5 h5M337.5 350 v5"/><path stroke="#4cffba" d="M320 329.5 h5M322.5 327 v5"/><path stroke="#36ffd0" d="M311 347.5 h5M313.5 345 v5"/><path stroke="#40ffc6" d="M312 335.5 h5M314.5 333 v5"/><path stroke="#4cffba" d="M325 332.5 h5M327.5 330 v5"/><path stroke="#64ffa2" d="M325 336.5 h5M327.5 334 v5"/><path stroke="#40ffc6" d="M304 326.5 h5M306.5 324 v5"/><path stroke="#2cffdc" d="M303 350.5 h5M305.5 348 v5"/><path stroke="#64ffa2" d="M335 325.5 h5M337.5 323 v5"/><path stroke="#4cffba" d="M300 338.5 h5M302.5 336 v5"/><path stroke="#64ffa2" d="M331 321.5 h5M333.5 319 v5"/><path stroke="#58ffae" d="M324 332.5 h5M326.5 330 v5"/><path stroke="#2cffdc" d="M376 325.5 h5M378.5 323 v5"/><path stroke="#22ffe6" d="M307 329.5 h5M309.5 327 v5"/><path stroke="#36ffd0" d="M304 329.5 h5M306.5 327 v5"/><path stroke="#36ffd0" d="M279 334.5 h5M281.5 332 v5"/><path stroke="#22ffe6" d="M300 314.5 h5M302.5 312 v5"/><path stroke="#40ffc6" d="M323 329.5 h5M325.5 327 v5"/><path stroke="#4cffba" d="M306 328.5 h5M308.5 326 v5"/><path stroke="#36ffd0" d="M308 347.5 h5M310.5 345 v5"/><path stroke="#64ffa2" d="M327 329.5 h5M329.5 327 v5"/><path stroke="#22ffe6" d="M309 318.5 h5M311.5 316 v5"/><path stroke="#2cffdc" d="M317 329.5 h5M319.5 327 v5"/><path stroke="#58ffae" d="M323 343.5 h5M325.5 341 v5"/><path stroke="#40ffc6" d="M306 345.5 h5M308.5 343 v5"/><path stroke="#36ffd0" d="M317 333.5 h5M319.5 331 v5"/><path stroke="#4cffba" d="M327 328.5 h5M329.5 326 v5"/><path stroke="#2cffdc" d="M313 348.5 h5M315.5 346 v5"/><path stroke="#36ffd0" d="M311 329.5 h5M313.5 327 v5"/><path stroke="#22ffe6" d="M296 323.5 h5M298.5 321 v5"/><path stroke="#2cffdc" d="M304 326.5 h5M306.5 324 v5"/><path stroke="#64ffa2" d="M336 341.5 h5M338.5 339 v5"/><path stroke="#4cffba" d="M319 339.5 h5M321.5 337 v5"/><path stroke="#36ffd0" d="M293 322.5 h5M295.5 320 v5"/><path stroke="#22ffe6" d="M306 326.5 h5M308.5 324 v5"/><path stroke="#40ffc6" d="M313 351.5 h5M315.5 349 v5"/><path stroke="#36ffd0" d="M302 333.5 h5M304.5 331 v5"/><path stroke="#58ffae" d="M340 338.5 h5M342.5 336 v5"/><path stroke="#2cffdc" d="M295 321.5 h5M297.5 319 v5"/><path stroke="#22ffe6" d="M312 326.5 h5M314.5 324 v5"/><path stroke="#4cffba" d="M312 336.5 h5M314.5 334 v5"/><path stroke="#58ffae" d="M341 329.5 h5M343.5 327 v5"/><path stroke="#22ffe6" d="M302 320.5 h5M304.5 318 v5"/><path stroke="#58ffae" d="M312 320.5 h5M314.5 318 v5"/><path stroke="#22ffe6" d="M306 334.5 h5M308.5 332 v5"/><path stroke="#64ffa2" d="M333 330.5 h5M335.5 328 v5"/><path stroke="#2cffdc" d="M305 326.5 h5M307.5 324 v5"/><path stroke="#40ffc6" d="M320 328.5 h5M322.5 326 v5"/><path stroke="#58ffae" d="M334 342.5 h5M336.5 340 v5"/><path stroke="#22ffe6" d="M301 332.5 h5M303.5 330 v5"/><path stroke="#58ffae" d="M285 313.5 h5M287.5 311 v5"/><path stroke="#64ffa2" d="M330 333.5 h5M332.5 331 v5"/><path stroke="#40ffc6" d="M308 346.5 h5M310.5 344 v5"/><path stroke="#22ffe6" d="M301 320.5 h5M303.5 318 v5"/><path stroke="#40ffc6" d="M322 321.5 h5M324.5 319 v5"/><path stroke="#22ffe6" d="M294 326.5 h5M296.5 324 v5"/><path stroke="#4cffba" d="M318 334.5 h5M320.5 332 v5"/><path stroke="#40ffc6" d="M318 330.5 h5M320.5 328 v5"/><path stroke="#2cffdc" d="M308 322.5 h5M310.5 320 v5"/><path stroke="#22ffe6" d="M293 323.5 h5M295.5 321 v5"/><path stroke="#58ffae" d="M309 331.5 h5M311.5 329 v5"/><path stroke="#36ffd0" d="M314 315.5 h5M316.5 313 v5"/><path stroke="#22ffe6" d="M310 331.5 h5M312.5 329 v5"/><path stroke="#2cffdc" d="M293 344.5 h5M295.5 342 v5"/><path stroke="#2cffdc" d="M331 316.5 h5M333.5 314 v5"/><path stroke="#22ffe6" d="M290 321.5 h5M292.5 319 v5"/><path stroke="#40ffc6" d="M315 336.5 h5M317.5 334 v5"/><path stroke="#64ffa2" d="M326 324.5 h5M328.5 322 v5"/><path stroke="#58ffae" d="M326 336.5 h5M328.5 334 v5"/><path stroke="#2cffdc" d="M304 331.5 h5M306.5 329 v5"/><path stroke="#40ffc6" d="M318 325.5 h5M320.5 323 v5"/><path stroke="#4cffba" d="M308 329.5 h5M310.5 327 v5"/><path stroke="#40ffc6" d="M318 325.5 h5M320.5 323 v5"/><path stroke="#40ffc6" d="M327 330.5 h5M329.5 328 v5"/><path stroke="#36ffd0" d="M300 321.5 h5M302.5 319 v5"/><path stroke="#36ffd0" d="M303 331.5 h5M305.5 329 v5"/><path stroke="#22ffe6" d="M305 320.5 h5M307.5 318 v5"/><path stroke="#40ffc6" d="M315 333.5 h5M317.5 331 v5"/><path stroke="#2cffdc" d="M310 318.5 h5M312.5 316 v5"/><path stroke="#40ffc6" d="M308 328.5 h5M310.5 326 v5"/><path stroke="#40ffc6" d="M305 332.5 h5M307.5 330 v5"/><path stroke="#4cffba" d="M311 349.5 h5M313.5 347 v5"/><path stroke="#2cffdc" d="M324 326.5 h5M326.5 324 v5"/><path stroke="#22ffe6" d="M303 344.5 h5M305.5 342 v5"/><path stroke="#36ffd0" d="M303 329.5 h5M305.5 327 v5"/><path stroke="#4cffba" d="M298 333.5 h5M300.5 331 v5"/><path stroke="#22ffe6" d="M307 324.5 h5M309.5 322 v5"/><path stroke="#36ffd0" d="M303 332.5 h5M305.5 330 v5"/><path stroke="#58ffae" d="M325 341.5 h5M327.5 339 v5"/><path stroke="#4cffba" d="M312 335.5 h5M314.5 333 v5"/><path stroke="#22ffe6" d="M300 324.5 h5M302.5 322 v5"/><path stroke="#2cffdc" d="M313 323.5 h5M315.5 321 v5"/><path stroke="#22ffe6" d="M308 317.5 h5M310.5 315 v5"/><path stroke="#36ffd0" d="M308 331.5 h5M310.5 329 v5"/><path stroke="#36ffd0" d="M304 333.5 h5M306.5 331 v5"/><path stroke="#36ffd0" d="M313 334.5 h5M315.5 332 v5"/><path stroke="#40ffc6" d="M308 327.5 h5M310.5 325 v5"/><path stroke="#4cffba" d="M310 330.5 h5M312.5 328 v5"/><path stroke="#2cffdc" d="M322 344.5 h5M324.5 342 v5"/><path stroke="#40ffc6" d="M305 329.5 h5M307.5 327 v5"/><path stroke="#22ffe6" d="M306 323.5 h5M308.5 321 v5"/><path stroke="#22ffe6" d="M304 321.5 h5M306.5 319 v5"/><path stroke="#58ffae" d="M322 338.5 h5M324.5 336 v5"/><path stroke="#40ffc6" d="M320 327.5 h5M322.5 325 v5"/><path stroke="#40ffc6" d="M320 338.5 h5M322.5 336 v5"/><path stroke="#4cffba" d="M315 324.5 h5M317.5 322 v5"/><path stroke="#22ffe6" d="M308 317.5 h5M310.5 315 v5"/><path stroke="#22ffe6" d="M299 314.5 h5M301.5 312 v5"/><path stroke="#22ffe6" d="M288 327.5 h5M290.5 325 v5"/><path stroke="#22ffe6" d="M306 346.5 h5M308.5 344 v5"/><path stroke="#40ffc6" d="M309 325.5 h5M311.5 323 v5"/><path stroke="#22ffe6" d="M304 330.5 h5M306.5 328 v5"/><path stroke="#2cffdc" d="M269 330.5 h5M271.5 328 v5"/><path stroke="#36ffd0" d="M304 324.5 h5M306.5 322 v5"/><path stroke="#4cffba" d="M315 330.5 h5M317.5 328 v5"/><path stroke="#22ffe6" d="M312 331.5 h5M314.5 329 v5"/><path stroke="#40ffc6" d="M309 342.5 h5M311.5 340 v5"/><path stroke="#40ffc6" d="M302 329.5 h5M304.5 327 v5"/><path stroke="#4cffba" d="M305 334.5 h5M307.5 332 v5"/><path stroke="#40ffc6" d="M307 323.5 h5M309.5 321 v5"/><path stroke="#58ffae" d="M322 334.5 h5M324.5 332 v5"/><path stroke="#40ffc6" d="M309 335.5 h5M311.5 333 v5"/><path stroke="#2cffdc" d="M292 327.5 h5M294.5 325 v5"/><path stroke="#64ffa2" d="M311 327.5 h5M313.5 325 v5"/><path stroke="#58ffae" d="M319 325.5 h5M321.5 323 v5"/><path stroke="#40ffc6" d="M307 373.5 h5M309.5 371 v5"/><path stroke="#40ffc6" d="M306 319.5 h5M308.5 317 v5"/><path stroke="#22ffe6" d="M302 339.5 h5M304.5 337 v5"/><path stroke="#40ffc6" d="M312 328.5 h5M314.5 326 v5"/><path stroke="#64ffa2" d="M335 343.5 h5M337.5 341 v5"/><path stroke="#40ffc6" d="M313 334.5 h5M315.5 332 v5"/><path stroke="#40ffc6" d="M300 324.5 h5M302.5 322 v5"/><path stroke="#58ffae" d="M285 302.5 h5M287.5 300 v5"/><path stroke="#40ffc6" d="M337 322.5 h5M339.5 320 v5"/><path stroke="#22ffe6" d="M299 334.5 h5M301.5 332 v5"/><path stroke="#4cffba" d="M312 334.5 h5M314.5 332 v5"/><path stroke="#22ffe6" d="M307 323.5 h5M309.5 321 v5"/><path stroke="#64ffa2" d="M331 333.5 h5M333.5 331 v5"/><path stroke="#36ffd0" d="M296 337.5 h5M298.5 335 v5"/><path stroke="#58ffae" d="M322 334.5 h5M324.5 332 v5"/><path stroke="#4cffba" d="M333 336.5 h5M335.5 334 v5"/><path stroke="#58ffae" d="M337 347.5 h5M339.5 345 v5"/><path stroke="#2cffdc" d="M297 356.5 h5M299.5 354 v5"/><path stroke="#22ffe6" d="M303 331.5 h5M305.5 329 v5"/><path stroke="#40ffc6" d="M326 332.5 h5M328.5 330 v5"/><path stroke="#40ffc6" d="M311 323.5 h5M313.5 321 v5"/><path stroke="#4cffba" d="M303 332.5 h5M305.5 330 v5"/><path stroke="#4cffba" d="M317 324.5 h5M319.5 322 v5"/><path stroke="#36ffd0" d="M328 336.5 h5M330.5 334 v5"/><path stroke="#4cffba" d="M310 328.5 h5M312.5 326 v5"/><path stroke="#4cffba" d="M315 344.5 h5M317.5 342 v5"/><path stroke="#4cffba" d="M332 336.5 h5M334.5 334 v5"/><path stroke="#64ffa2" d="M321 332.5 h5M323.5 330 v5"/><path stroke="#64ffa2" d="M328 309.5 h5M330.5 307 v5"/><path stroke="#2cffdc" d="M306 336.5 h5M308.5 334 v5"/><path stroke="#2cffdc" d="M309 333.5 h5M311.5 331 v5"/><path stroke="#22ffe6" d="M300 350.5 h5M302.5 348 v5"/><path stroke="#40ffc6" d="M343 325.5 h5M345.5 323 v5"/><path stroke="#2cffdc" d="M303 337.5 h5M305.5 335 v5"/><path stroke="#4cffba" d="M318 335.5 h5M320.5 333 v5"/><path stroke="#4cffba" d="M313 331.5 h5M315.5 329 v5"/><path stroke="#2cffdc" d="M324 345.5 h5M326.5 343 v5"/><path stroke="#40ffc6" d="M315 322.5 h5M317.5 320 v5"/><path stroke="#36ffd0" d="M320 336.5 h5M322.5 334 v5"/><path stroke="#36ffd0" d="M306 324.5 h5M308.5 322 v5"/><path stroke="#36ffd0" d="M319 327.5 h5M321.5 325 v5"/><path stroke="#40ffc6" d="M314 348.5 h5M316.5 346 v5"/><path stroke="#40ffc6" d="M306 333.5 h5M308.5 331 v5"/><path stroke="#58ffae" d="M340 345.5 h5M342.5 343 v5"/><path stroke="#36ffd0" d="M302 322.5 h5M304.5 320 v5"/><path stroke="#58ffae" d="M329 331.5 h5M331.5 329 v5"/><path stroke="#40ffc6" d="M322 324.5 h5M324.5 322 v5"/><path stroke="#36ffd0" d="M308 352.5 h5M310.5 350 v5"/><path stroke="#36ffd0" d="M302 360.5 h5M304.5 358 v5"/><path stroke="#36ffd0" d="M304 320.5 h5M306.5 318 v5"/><path stroke="#36ffd0" d="M300 342.5 h5M302.5 340 v5"/><path stroke="#2cffdc" d="M315 326.5 h5M317.5 324 v5"/><path stroke="#36ffd0" d="M306 344.5 h5M308.5 342 v5"/><path stroke="#2cffdc" d="M297 349.5 h5M299.5 347 v5"/><path stroke="#4cffba" d="M318 333.5 h5M320.5 331 v5"/><path stroke="#36ffd0" d="M312 316.5 h5M314.5 314 v5"/><path stroke="#40ffc6" d="M298 329.5 h5M300.5 327 v5"/><path stroke="#2cffdc" d="M294 332.5 h5M296.5 330 v5"/><path stroke="#4cffba" d="M321 331.5 h5M323.5 329 v5"/><path stroke="#4cffba" d="M316 324.5 h5M318.5 322 v5"/><path stroke="#36ffd0" d="M300 326.5 h5M302.5 324 v5"/><path stroke="#40ffc6" d="M318 332.5 h5M320.5 330 v5"/><path stroke="#4cffba" d="M322 333.5 h5M324.5 331 v5"/><path stroke="#4cffba" d="M325 344.5 h5M327.5 342 v5"/><path stroke="#36ffd0" d="M306 326.5 h5M308.5 324 v5"/><path stroke="#22ffe6" d="M308 332.5 h5M310.5 330 v5"/><path stroke="#58ffae" d="M299 344.5 h5M301.5 342 v5"/><path stroke="#22ffe6" d="M305 328.5 h5M307.5 326 v5"/><path stroke="#2cffdc" d="M295 325.5 h5M297.5 323 v5"/><path stroke="#40ffc6" d="M310 325.5 h5M312.5 323 v5"/><path stroke="#58ffae" d="M319 327.5 h5M321.5 325 v5"/><path stroke="#36ffd0" d="M307 336.5 h5M309.5 334 v5"/><path stroke="#64ffa2" d="M332 340.5 h5M334.5 338 v5"/><path stroke="#36ffd0" d="M325 331.5 h5M327.5 329 v5"/><path stroke="#40ffc6" d="M297 331.5 h5M299.5 329 v5"/><path stroke="#64ffa2" d="M323 336.5 h5M325.5 334 v5"/><path stroke="#64ffa2" d="M317 323.5 h5M319.5 321 v5"/><path stroke="#36ffd0" d="M313 330.5 h5M315.5 328 v5"/><path stroke="#22ffe6" d="M291 327.5 h5M293.5 325 v5"/><path stroke="#36ffd0" d="M327 328.5 h5M329.5 326 v5"/><path stroke="#4cffba" d="M334 337.5 h5M336.5 335 v5"/><path stroke="#40ffc6" d="M316 339.5 h5M318.5 337 v5"/><path stroke="#2cffdc" d="M303 328.5 h5M305.5 326 v5"/><path stroke="#64ffa2" d="M331 332.5 h5M333.5 330 v5"/><path stroke="#36ffd0" d="M302 323.5 h5M304.5 321 v5"/><path stroke="#40ffc6" d="M327 332.5 h5M329.5 330 v5"/><path stroke="#4cffba" d="M327 324.5 h5M329.5 322 v5"/><path stroke="#36ffd0" d="M305 330.5 h5M307.5 328 v5"/><path stroke="#36ffd0" d="M296 322.5 h5M298.5 320 v5"/><path stroke="#2cffdc" d="M300 321.5 h5M302.5 319 v5"/><path stroke="#36ffd0" d="M318 334.5 h5M320.5 332 v5"/><path stroke="#36ffd0" d="M301 319.5 h5M303.5 317 v5"/><path stroke="#58ffae" d="M322 340.5 h5M324.5 338 v5"/><path stroke="#22ffe6" d="M312 339.5 h5M314.5 337 v5"/><path stroke="#36ffd0" d="M315 332.5 h5M317.5 330 v5"/><path stroke="#4cffba" d="M307 338.5 h5M309.5 336 v5"/><path stroke="#4cffba" d="M319 331.5 h5M321.5 329 v5"/><path stroke="#40ffc6" d="M304 329.5 h5M306.5 327 v5"/><path stroke="#2cffdc" d="M318 338.5 h5M320.5 336 v5"/><path stroke="#22ffe6" d="M301 316.5 h5M303.5 314 v5"/><path stroke="#2cffdc" d="M300 320.5 h5M302.5 318 v5"/><path stroke="#36ffd0" d="M316 348.5 h5M318.5 346 v5"/><path stroke="#36ffd0" d="M308 324.5 h5M310.5 322 v5"/><path stroke="#58ffae" d="M305 293.5 h5M307.5 291 v5"/><path stroke="#36ffd0" d="M311 331.5 h5M313.5 329 v5"/><path stroke="#58ffae" d="M304 323.5 h5M306.5 321 v5"/><path stroke="#22ffe6" d="M303 326.5 h5M305.5 324 v5"/><path stroke="#64ffa2" d="M248 360.5 h5M250.5 358 v5"/><path stroke="#36ffd0" d="M309 330.5 h5M311.5 328 v5"/><path stroke="#64ffa2" d="M326 324.5 h5M328.5 322 v5"/><path stroke="#2cffdc" d="M291 333.5 h5M293.5 331 v5"/><path stroke="#36ffd0" d="M300 351.5 h5M302.5 349 v5"/><path stroke="#36ffd0" d="M299 314.5 h5M301.5 312 v5"/><path stroke="#2cffdc" d="M309 315.5 h5M311.5 313 v5"/><path stroke="#58ffae" d="M285 335.5 h5M287.5 333 v5"/><path stroke="#2cffdc" d="M306 348.5 h5M308.5 346 v5"/><path stroke="#2cffdc" d="M309 335.5 h5M311.5 333 v5"/><path stroke="#4cffba" d="M313 316.5 h5M315.5 314 v5"/><path stroke="#2cffdc" d="M308 343.5 h5M310.5 341 v5"/><path stroke="#40ffc6" d="M314 326.5 h5M316.5 324 v5"/><path stroke="#36ffd0" d="M301 328.5 h5M303.5 326 v5"/><path stroke="#40ffc6" d="M318 329.5 h5M320.5 327 v5"/><path stroke="#36ffd0" d="M300 325.5 h5M302.5 323 v5"/><path stroke="#22ffe6" d="M312 324.5 h5M314.5 322 v5"/><path stroke="#4cffba" d="M315 329.5 h5M317.5 327 v5"/><path stroke="#36ffd0" d="M324 326.5 h5M326.5 324 v5"/><path stroke="#4cffba" d="M329 330.5 h5M331.5 328 v5"/><path stroke="#22ffe6" d="M314 334.5 h5M316.5 332 v5"/><path stroke="#64ffa2" d="M316 327.5 h5M318.5 325 v5"/><path stroke="#40ffc6" d="M302 319.5 h5M304.5 317 v5"/><path stroke="#64ffa2" d="M334 334.5 h5M336.5 332 v5"/><path stroke="#4cffba" d="M325 343.5 h5M327.5 341 v5"/><path stroke="#40ffc6" d="M302 333.5 h5M304.5 331 v5"/><path stroke="#40ffc6" d="M328 330.5 h5M330.5 328 v5"/><path stroke="#58ffae" d="M313 338.5 h5M315.5 336 v5"/><path stroke="#40ffc6" d="M319 338.5 h5M321.5 336 v5"/><path stroke="#4cffba" d="M331 340.5 h5M333.5 338 v5"/><path stroke="#2cffdc" d="M312 328.5 h5M314.5 326 v5"/><path stroke="#64ffa2" d="M381 337.5 h5M383.5 335 v5"/><path stroke="#40ffc6" d="M305 318.5 h5M307.5 316 v5"/><path stroke="#4cffba" d="M333 335.5 h5M335.5 333 v5"/><path stroke="#22ffe6" d="M305 326.5 h5M307.5 324 v5"/>
</g>
<ellipse cx="281" cy="322" rx="1.45" ry="1.95" fill="none" stroke="#a4ff4c" stroke-width="1" transform="rotate(25 281 322)"/>
<path d="M294 310 L302.5 318.5" stroke="#d0d0d0" stroke-width="1" fill="none"/>
<g fill="none" stroke="#585858" stroke-width="1.05" stroke-dasharray="1.05 3">
<circle cx="298.5" cy="314.5" r="31.275"/><circle cx="298.5" cy="314.5" r="62.55"/><circle cx="298.5" cy="314.5" r="93.825"/><circle cx="298.5" cy="314.5" r="125.1"/><circle cx="298.5" cy="314.5" r="156.375"/><circle cx="298.5" cy="314.5" r="187.65"/><circle cx="298.5" cy="314.5" r="218.925"/>
</g>
<text class="m" xml:space="preserve" x="281.2 288.2 295.2 302.2 309.2" y="57" font-size="13.4" font-weight="bold" font-style="normal" fill="#000">North</text>
<text class="m" xml:space="preserve" x="281.2 288.2 295.2 302.2 309.2" y="578" font-size="13.4" font-weight="bold" font-style="normal" fill="#000">South</text>
<text class="m" xml:space="preserve" x="15.6 22.6 29.6 36.6" y="318" font-size="13.4" font-weight="bold" font-style="normal" fill="#000">West</text>
<text class="m" xml:space="preserve" x="552 559 566 573" y="318" font-size="13.4" font-weight="bold" font-style="normal" fill="#000">East</text>
<text class="m" xml:space="preserve" x="399.3 407.3 415.3 423.3 431.3 439.3 447.3 455.3 463.3 471.3 479.3 487.3 495.3 503.3 511.3 519.3 527.3 535.3 543.3 551.3 559.3 567.3 575.3 583.3 591.3 599.3 607.3 615.3 623.3 631.3 639.3 647.3 655.3 663.3 671.3 679.3 687.3 695.3 703.3 711.3 719.3 727.3 735.3 743.3 751.3 759.3 767.3 775.3 783.3" y="19.4" font-size="14" font-weight="bold" font-style="normal" fill="#000">STATION NAME    YYYY DATE  DDD HHMMSS AXN PPS IGP</text>
<text class="m" xml:space="preserve" x="399.3 407.3 415.3 423.3 431.3 439.3 447.3 455.3 463.3 471.3 479.3 487.3 495.3 503.3 511.3 519.3 527.3 535.3 543.3 551.3 559.3 567.3 575.3 583.3 591.3 599.3 607.3 615.3 623.3 631.3 639.3 647.3 655.3 663.3 671.3 679.3 687.3 695.3 703.3 711.3 719.3 727.3 735.3 743.3 751.3 759.3 767.3 775.3 783.3" y="36.1" font-size="14" font-weight="bold" font-style="normal" fill="#000">Boa Vista       2021 Aug20 232 222430 417 100 -8D</text>
<text class="m" xml:space="preserve" x="594.5 601.5 608.5 615.5 622.5 629.5 636.5 643.5 650.5 657.5 664.5 671.5 678.5 685.5" y="71" font-size="12.1" font-weight="normal" font-style="normal" fill="#000">Num of Sources</text>
<text class="m" xml:space="preserve" x="770 777 784" y="71" font-size="12.1" font-weight="normal" font-style="normal" fill="#000">904</text>
<text class="m" xml:space="preserve" x="594.5 601.5 608.5 615.5 622.5 629.5 636.5 643.5 650.5 657.5 664.5 671.5 678.5" y="85" font-size="12.1" font-weight="normal" font-style="normal" fill="#000">Min Freq, kHz</text>
<text class="m" xml:space="preserve" x="763 770 777 784" y="85" font-size="12.1" font-weight="normal" font-style="normal" fill="#000">8800</text>
<text class="m" xml:space="preserve" x="594.5 601.5 608.5 615.5 622.5 629.5 636.5 643.5 650.5 657.5 664.5 671.5 678.5" y="99" font-size="12.1" font-weight="normal" font-style="normal" fill="#000">Max Freq, kHz</text>
<text class="m" xml:space="preserve" x="763 770 777 784" y="99" font-size="12.1" font-weight="normal" font-style="normal" fill="#000">9100</text>
<text class="m" xml:space="preserve" x="594.5 601.5 608.5 615.5 622.5 629.5 636.5 643.5 650.5 657.5 664.5 671.5 678.5" y="113" font-size="12.1" font-weight="normal" font-style="normal" fill="#000">Min Range, km</text>
<text class="m" xml:space="preserve" x="770 777 784" y="113" font-size="12.1" font-weight="normal" font-style="normal" fill="#000">302</text>
<text class="m" xml:space="preserve" x="594.5 601.5 608.5 615.5 622.5 629.5 636.5 643.5 650.5 657.5 664.5 671.5 678.5" y="127" font-size="12.1" font-weight="normal" font-style="normal" fill="#000">Max Range, km</text>
<text class="m" xml:space="preserve" x="770 777 784" y="127" font-size="12.1" font-weight="normal" font-style="normal" fill="#000">327</text>
<text class="m" xml:space="preserve" x="594.5 601.5 608.5 615.5 622.5 629.5 636.5 643.5 650.5 657.5 664.5" y="141" font-size="12.1" font-weight="normal" font-style="normal" fill="#000">Max Amp, dB</text>
<text class="m" xml:space="preserve" x="777 784" y="141" font-size="12.1" font-weight="normal" font-style="normal" fill="#000">67</text>
<text class="m" xml:space="preserve" x="594.5 601.5 608.5 615.5 622.5 629.5 636.5 643.5 650.5 657.5 664.5 671.5 678.5 685.5 692.5" y="155" font-size="12.1" font-weight="normal" font-style="normal" fill="#000">Max SNR Amp, dB</text>
<text class="m" xml:space="preserve" x="777 784" y="155" font-size="12.1" font-weight="normal" font-style="normal" fill="#000">60</text>
<text class="m" xml:space="preserve" x="594.5 601.5 608.5 615.5 622.5 629.5 636.5 643.5 650.5 657.5 664.5 671.5 678.5 685.5 692.5" y="169" font-size="12.1" font-weight="normal" font-style="normal" fill="#000">Min SNR Amp, dB</text>
<text class="m" xml:space="preserve" x="777 784" y="169" font-size="12.1" font-weight="normal" font-style="normal" fill="#000">12</text>
<text class="m" xml:space="preserve" x="594.5 601.5 608.5 615.5 622.5 629.5 636.5 643.5 650.5 657.5 664.5 671.5 678.5 685.5 692.5" y="183" font-size="12.1" font-weight="normal" font-style="normal" fill="#000">Avg SNR Amp, dB</text>
<text class="m" xml:space="preserve" x="777 784" y="183" font-size="12.1" font-weight="normal" font-style="normal" fill="#000">31</text>
<text class="m" xml:space="preserve" x="594.5 601.5 608.5 615.5 622.5 629.5 636.5 643.5 650.5 657.5 664.5 671.5 678.5 685.5 692.5 699.5" y="197" font-size="12.1" font-weight="normal" font-style="normal" fill="#000">Max RMS Err, deg</text>
<text class="m" xml:space="preserve" x="763 770 777 784" y="197" font-size="12.1" font-weight="normal" font-style="normal" fill="#000">12.0</text>
<text class="m" xml:space="preserve" x="594.5 601.5 608.5 615.5 622.5 629.5 636.5 643.5 650.5 657.5 664.5 671.5 678.5 685.5 692.5 699.5" y="211" font-size="12.1" font-weight="normal" font-style="normal" fill="#000">Min RMS Err, deg</text>
<text class="m" xml:space="preserve" x="770 777 784" y="211" font-size="12.1" font-weight="normal" font-style="normal" fill="#000">0.0</text>
<text class="m" xml:space="preserve" x="594.5 601.5 608.5 615.5 622.5 629.5 636.5 643.5 650.5 657.5 664.5 671.5 678.5 685.5 692.5 699.5" y="225" font-size="12.1" font-weight="normal" font-style="normal" fill="#000">Avg RMS Err, deg</text>
<text class="m" xml:space="preserve" x="770 777 784" y="225" font-size="12.1" font-weight="normal" font-style="normal" fill="#000">4.5</text>
<text class="m" xml:space="preserve" x="594.5 601.5 608.5 615.5 622.5 629.5 636.5 643.5 650.5 657.5 664.5 671.5 678.5 685.5 692.5" y="239" font-size="12.1" font-weight="normal" font-style="normal" fill="#000">Doppler Res, Hz</text>
<text class="m" xml:space="preserve" x="749 756 763 770 777 784" y="239" font-size="12.1" font-weight="normal" font-style="normal" fill="#000">0.0558</text>
<text class="m" xml:space="preserve" x="594.5 601.5 608.5 615.5 622.5 629.5 636.5 643.5" y="253" font-size="12.1" font-weight="normal" font-style="normal" fill="#000">CIT, sec</text>
<text class="m" xml:space="preserve" x="756 763 770 777 784" y="253" font-size="12.1" font-weight="normal" font-style="normal" fill="#000">17.92</text>
<text class="m" xml:space="preserve" x="594.5 601.5 608.5 615.5 622.5 629.5 636.5 643.5 650.5 657.5 664.5" y="267" font-size="12.1" font-weight="normal" font-style="normal" fill="#000">Num of CITs</text>
<text class="m" xml:space="preserve" x="784" y="267" font-size="12.1" font-weight="normal" font-style="normal" fill="#000">6</text>
<text class="m" xml:space="preserve" x="594.5 601.5 608.5 615.5 622.5 629.5 636.5 643.5 650.5 657.5 664.5 671.5" y="281" font-size="12.1" font-weight="normal" font-style="normal" fill="#000">Polarization</text>
<text class="m" xml:space="preserve" x="749 756 763 770 777 784" y="281" font-size="12.1" font-weight="normal" font-style="normal" fill="#000">O-mode</text>
<text class="m" xml:space="preserve" x="594.5 601.5 608.5 615.5 622.5 629.5 636.5 643.5 650.5 657.5 664.5 671.5 678.5 685.5 692.5 699.5 706.5 713.5 720.5 727.5 734.5 741.5 748.5" y="295" font-size="12.1" font-weight="normal" font-style="normal" fill="#000">Center of Sources, deg:</text>
<text class="m" xml:space="preserve" x="594.5 601.5 608.5 615.5 622.5 629.5 636.5 643.5 650.5 657.5 664.5 671.5 678.5 685.5 692.5 699.5" y="309" font-size="12.1" font-weight="normal" font-style="normal" fill="#000">          Zenith</text>
<text class="m" xml:space="preserve" x="770 777 784" y="309" font-size="12.1" font-weight="normal" font-style="normal" fill="#000">3.5</text>
<text class="m" xml:space="preserve" x="594.5 601.5 608.5 615.5 622.5 629.5 636.5 643.5 650.5 657.5 664.5 671.5 678.5 685.5 692.5 699.5 706.5" y="323" font-size="12.1" font-weight="normal" font-style="normal" fill="#000">          Azimuth</text>
<text class="m" xml:space="preserve" x="770 777 784" y="323" font-size="12.1" font-weight="normal" font-style="normal" fill="#000">219</text>
<path d="M721.4 320.2 Q722.6 317.2 724.6 317.4 Q726.4 317.7 726 320" fill="none" stroke="#2a2a2a" stroke-width="0.95"/><path d="M720.2 319 L723.2 319.6 L721.3 321.6 Z" fill="#2a2a2a"/>
<text class="m" xml:space="preserve" x="12" y="572" font-size="13.4" font-weight="normal" font-style="italic" fill="#000">V</text>
<text class="m" xml:space="preserve" x="19.3" y="575.8" font-size="12" font-weight="normal" font-style="normal" fill="#000">h</text>
<text class="m" xml:space="preserve" x="33 40 47 54 61 68 75 82" y="572" font-size="13.4" font-weight="normal" font-style="italic" fill="#000">= 4 ± 24</text>
<text class="m" xml:space="preserve" x="96 103 110" y="572" font-size="13.4" font-weight="normal" font-style="normal" fill="#000">m/s</text>
<text class="m" xml:space="preserve" x="12 19 26 33 40 47 54 61 68 75 82 89 96 103 110 117 124 131 138 145 152 159" y="592.4" font-size="13.4" font-weight="normal" font-style="italic" fill="#000">Geographic coordinates</text>
<text class="m" xml:space="preserve" x="474" y="572" font-size="13.4" font-weight="normal" font-style="italic" fill="#000">V</text>
<text class="m" xml:space="preserve" x="481.2" y="575.8" font-size="11.2" font-weight="bold" font-style="normal" fill="#000">z</text>
<text class="m" xml:space="preserve" x="495 502 509 516 523 530 537 544" y="572" font-size="13.4" font-weight="normal" font-style="italic" fill="#000">= -8 ± 1</text>
<text class="m" xml:space="preserve" x="558 565 572" y="572" font-size="13.4" font-weight="normal" font-style="normal" fill="#000">m/s</text>
<text class="m" xml:space="preserve" x="419.5 426.5 433.5 440.5 447.5 454.5 461.5 468.5 475.5 482.5 489.5 496.5 503.5 510.5" y="592.4" font-size="13.4" font-weight="normal" font-style="italic" fill="#000">Zenith: max 40</text>
<text class="m" xml:space="preserve" x="516.6" y="592.4" font-size="12.5" font-weight="normal" font-style="italic" fill="#000">°</text>
<text class="m" xml:space="preserve" x="521 528 535 542 549 556 563 570" y="592.4" font-size="13.4" font-weight="normal" font-style="italic" fill="#000">  step 5</text>
<text class="m" xml:space="preserve" x="576.1" y="592.4" font-size="12.5" font-weight="normal" font-style="italic" fill="#000">°</text>
<defs><linearGradient id="cb" x1="0" y1="0" x2="0" y2="1">
<stop offset="0.0000" stop-color="#0000c0"/><stop offset="0.0806" stop-color="#0000ff"/><stop offset="0.2202" stop-color="#0080ff"/><stop offset="0.3599" stop-color="#00ffff"/><stop offset="0.4996" stop-color="#80ff80"/><stop offset="0.6393" stop-color="#ffff00"/><stop offset="0.7789" stop-color="#ff8000"/><stop offset="0.9186" stop-color="#ff0000"/><stop offset="1.0000" stop-color="#b80000"/>
</linearGradient></defs>
<rect x="593" y="341" width="15" height="242" fill="url(#cb)" shape-rendering="crispEdges"/>
<path class="c" stroke="#000" d="M608.5 341 V583M609 582.5 h6M609 580.5 h6M609 576.5 h3M609 573.5 h3M609 570.5 h3M609 566.5 h3M609 563.5 h6M609 559.5 h3M609 556.5 h3M609 553.5 h3M609 549.5 h3M609 546.5 h6M609 543.5 h3M609 539.5 h3M609 536.5 h3M609 532.5 h3M609 529.5 h6M609 526.5 h3M609 522.5 h3M609 519.5 h3M609 515.5 h3M609 512.5 h6M609 509.5 h3M609 505.5 h3M609 502.5 h3M609 499.5 h3M609 495.5 h6M609 492.5 h3M609 488.5 h3M609 485.5 h3M609 482.5 h3M609 478.5 h6M609 475.5 h3M609 472.5 h3M609 468.5 h3M609 465.5 h3M609 461.5 h6M609 458.5 h3M609 455.5 h3M609 451.5 h3M609 448.5 h3M609 445.5 h6M609 441.5 h3M609 438.5 h3M609 434.5 h3M609 431.5 h3M609 428.5 h6M609 424.5 h3M609 421.5 h3M609 417.5 h3M609 414.5 h3M609 411.5 h6M609 407.5 h3M609 404.5 h3M609 401.5 h3M609 397.5 h3M609 394.5 h6M609 390.5 h3M609 387.5 h3M609 384.5 h3M609 380.5 h3M609 377.5 h6M609 374.5 h3M609 370.5 h3M609 367.5 h3M609 363.5 h3M609 360.5 h6M609 357.5 h3M609 353.5 h3M609 350.5 h3M609 346.5 h3M609 343.5 h6M609 341.5 h6"/>
<text class="s" x="618" y="345.1" font-size="10.6" font-weight="bold" stroke="#000" stroke-width="0.25" textLength="18" lengthAdjust="spacingAndGlyphs">3.6</text>
<text class="s" x="618" y="364.1" font-size="10.6" font-weight="bold" stroke="#000" stroke-width="0.25" textLength="18" lengthAdjust="spacingAndGlyphs">3.0</text>
<text class="s" x="618" y="398.1" font-size="10.6" font-weight="bold" stroke="#000" stroke-width="0.25" textLength="18" lengthAdjust="spacingAndGlyphs">2.0</text>
<text class="s" x="618" y="432.1" font-size="10.6" font-weight="bold" stroke="#000" stroke-width="0.25" textLength="18" lengthAdjust="spacingAndGlyphs">1.0</text>
<text class="s" x="618" y="465.1" font-size="10.6" font-weight="bold" stroke="#000" stroke-width="0.25" textLength="6.8" lengthAdjust="spacingAndGlyphs">0</text>
<text class="s" x="618" y="499.1" font-size="10.6" font-weight="bold" stroke="#000" stroke-width="0.25" textLength="23.2" lengthAdjust="spacingAndGlyphs">-1.0</text>
<text class="s" x="618" y="533.1" font-size="10.6" font-weight="bold" stroke="#000" stroke-width="0.25" textLength="23.2" lengthAdjust="spacingAndGlyphs">-2.0</text>
<text class="s" x="618" y="567.1" font-size="10.6" font-weight="bold" stroke="#000" stroke-width="0.25" textLength="23.2" lengthAdjust="spacingAndGlyphs">-3.0</text>
<text class="s" x="618" y="586.1" font-size="10.6" font-weight="bold" stroke="#000" stroke-width="0.25" textLength="23.2" lengthAdjust="spacingAndGlyphs">-3.6</text>
<text class="s" transform="translate(657 491.3) rotate(-90)" font-size="10.4" font-weight="bold" stroke="#000" stroke-width="0.3" textLength="52" lengthAdjust="spacingAndGlyphs">Doppler, Hz</text>
<path d="M669 402.5 h7.5 M672.75 399 v7" stroke="#0000f0" stroke-width="1" fill="none"/>
<text class="s" x="682.8" y="405.8" font-size="10.4" font-weight="bold" fill="#0000e8" stroke="#0000e8" stroke-width="0.3" textLength="44.2" lengthAdjust="spacingAndGlyphs">Positive</text>
<circle cx="672.8" cy="522.8" r="2.5" fill="none" stroke="#f00000" stroke-width="1"/>
<text class="s" x="682.8" y="525.8" font-size="10.4" font-weight="bold" fill="#f00000" stroke="#f00000" stroke-width="0.3" textLength="50.2" lengthAdjust="spacingAndGlyphs">Negative</text>
<text class="s" xml:space="preserve" x="654.5" y="592.6" font-size="10.4" fill="#000" textLength="138.5" lengthAdjust="spacingAndGlyphs">ShowSkymap v 1.0   SD v 5.1</text>
</svg>
</body></html>
